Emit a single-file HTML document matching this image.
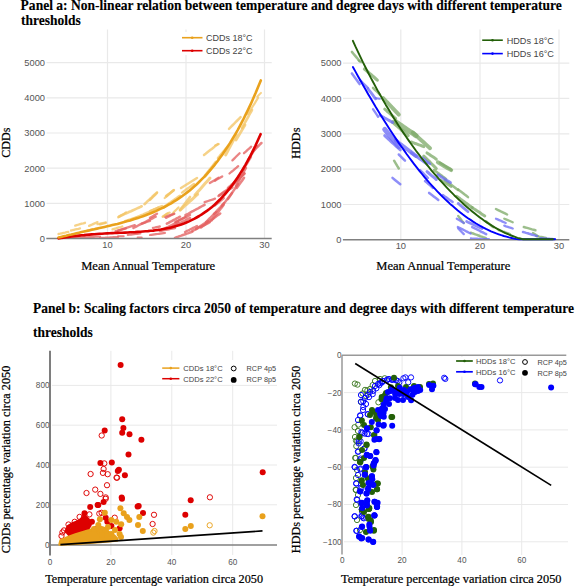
<!DOCTYPE html>
<html><head><meta charset="utf-8"><title>Figure</title>
<style>html,body{margin:0;padding:0;background:#fff;width:575px;height:586px;overflow:hidden}svg{display:block}</style>
</head><body>
<svg width="575" height="586" viewBox="0 0 575 586">
<rect width="575" height="586" fill="#fff"/>
<text transform="translate(20.6,9.6) scale(1,1.12)" font-family='"Liberation Serif", serif' font-size="13.56" fill="#000" font-weight="bold" stroke="#000" stroke-width="0.12" >Panel a: Non-linear relation between temperature and degree days with different temperature</text>
<text transform="translate(21,24.5) scale(1,1.12)" font-family='"Liberation Serif", serif' font-size="13.5" fill="#000" font-weight="bold" stroke="#000" stroke-width="0.12" >thresholds</text>
<line x1="46.5" y1="62.7" x2="271.7" y2="62.7" stroke="#e9e9e9" stroke-width="1.2" />
<line x1="46.5" y1="97.9" x2="271.7" y2="97.9" stroke="#e9e9e9" stroke-width="1.2" />
<line x1="46.5" y1="133" x2="271.7" y2="133" stroke="#e9e9e9" stroke-width="1.2" />
<line x1="46.5" y1="168.2" x2="271.7" y2="168.2" stroke="#e9e9e9" stroke-width="1.2" />
<line x1="46.5" y1="203.4" x2="271.7" y2="203.4" stroke="#e9e9e9" stroke-width="1.2" />
<line x1="107.5" y1="29.5" x2="107.5" y2="238.6" stroke="#e9e9e9" stroke-width="1.2" />
<line x1="186" y1="29.5" x2="186" y2="238.6" stroke="#e9e9e9" stroke-width="1.2" />
<line x1="264.5" y1="29.5" x2="264.5" y2="238.6" stroke="#e9e9e9" stroke-width="1.2" />
<text x="45" y="66" font-family='"Liberation Sans", sans-serif' font-size="9.3" fill="#555" text-anchor="end" font-weight="normal" >5000</text>
<text x="45" y="101.2" font-family='"Liberation Sans", sans-serif' font-size="9.3" fill="#555" text-anchor="end" font-weight="normal" >4000</text>
<text x="45" y="136.3" font-family='"Liberation Sans", sans-serif' font-size="9.3" fill="#555" text-anchor="end" font-weight="normal" >3000</text>
<text x="45" y="171.5" font-family='"Liberation Sans", sans-serif' font-size="9.3" fill="#555" text-anchor="end" font-weight="normal" >2000</text>
<text x="45" y="206.7" font-family='"Liberation Sans", sans-serif' font-size="9.3" fill="#555" text-anchor="end" font-weight="normal" >1000</text>
<text x="45" y="241.9" font-family='"Liberation Sans", sans-serif' font-size="9.3" fill="#555" text-anchor="end" font-weight="normal" >0</text>
<text x="107.5" y="247.7" font-family='"Liberation Sans", sans-serif' font-size="9.3" fill="#555" text-anchor="middle" font-weight="normal" >10</text>
<text x="186" y="247.7" font-family='"Liberation Sans", sans-serif' font-size="9.3" fill="#555" text-anchor="middle" font-weight="normal" >20</text>
<text x="264.5" y="247.7" font-family='"Liberation Sans", sans-serif' font-size="9.3" fill="#555" text-anchor="middle" font-weight="normal" >30</text>
<text transform="translate(81.2,269.6) scale(1,1.07)" font-family='"Liberation Serif", serif' font-size="12.55" fill="#000" font-weight="normal" stroke="#000" stroke-width="0.22" >Mean Annual Temperature</text>
<text transform="translate(9.8,142.7) rotate(-90) scale(1,1.05)" font-family='"Liberation Serif", serif' font-size="12" fill="#000" stroke="#000" stroke-width="0.22" text-anchor="middle">CDDs</text>
<line x1="343" y1="63.1" x2="569.3" y2="63.1" stroke="#e9e9e9" stroke-width="1.2" />
<line x1="343" y1="98.4" x2="569.3" y2="98.4" stroke="#e9e9e9" stroke-width="1.2" />
<line x1="343" y1="133.8" x2="569.3" y2="133.8" stroke="#e9e9e9" stroke-width="1.2" />
<line x1="343" y1="169.1" x2="569.3" y2="169.1" stroke="#e9e9e9" stroke-width="1.2" />
<line x1="343" y1="204.5" x2="569.3" y2="204.5" stroke="#e9e9e9" stroke-width="1.2" />
<line x1="400.8" y1="29.5" x2="400.8" y2="239.8" stroke="#e9e9e9" stroke-width="1.2" />
<line x1="480" y1="29.5" x2="480" y2="239.8" stroke="#e9e9e9" stroke-width="1.2" />
<line x1="559" y1="29.5" x2="559" y2="239.8" stroke="#e9e9e9" stroke-width="1.2" />
<text x="341.5" y="66.4" font-family='"Liberation Sans", sans-serif' font-size="9.3" fill="#555" text-anchor="end" font-weight="normal" >5000</text>
<text x="341.5" y="101.7" font-family='"Liberation Sans", sans-serif' font-size="9.3" fill="#555" text-anchor="end" font-weight="normal" >4000</text>
<text x="341.5" y="137.1" font-family='"Liberation Sans", sans-serif' font-size="9.3" fill="#555" text-anchor="end" font-weight="normal" >3000</text>
<text x="341.5" y="172.4" font-family='"Liberation Sans", sans-serif' font-size="9.3" fill="#555" text-anchor="end" font-weight="normal" >2000</text>
<text x="341.5" y="207.8" font-family='"Liberation Sans", sans-serif' font-size="9.3" fill="#555" text-anchor="end" font-weight="normal" >1000</text>
<text x="341.5" y="243.1" font-family='"Liberation Sans", sans-serif' font-size="9.3" fill="#555" text-anchor="end" font-weight="normal" >0</text>
<text x="400.8" y="249" font-family='"Liberation Sans", sans-serif' font-size="9.3" fill="#555" text-anchor="middle" font-weight="normal" >10</text>
<text x="480" y="249" font-family='"Liberation Sans", sans-serif' font-size="9.3" fill="#555" text-anchor="middle" font-weight="normal" >20</text>
<text x="559" y="249" font-family='"Liberation Sans", sans-serif' font-size="9.3" fill="#555" text-anchor="middle" font-weight="normal" >30</text>
<text transform="translate(376.3,269.6) scale(1,1.07)" font-family='"Liberation Serif", serif' font-size="12.55" fill="#000" font-weight="normal" stroke="#000" stroke-width="0.22" >Mean Annual Temperature</text>
<text transform="translate(300,143.2) rotate(-90) scale(1,1.05)" font-family='"Liberation Serif", serif' font-size="12.2" fill="#000" stroke="#000" stroke-width="0.22" text-anchor="middle">HDDs</text>
<text transform="translate(33,313.4) scale(1,1.12)" font-family='"Liberation Serif", serif' font-size="13.5" fill="#000" font-weight="bold" stroke="#000" stroke-width="0.12" >Panel b: Scaling factors circa 2050 of temperature and degree days with different temperature</text>
<text transform="translate(33,337.4) scale(1,1.12)" font-family='"Liberation Serif", serif' font-size="13.5" fill="#000" font-weight="bold" stroke="#000" stroke-width="0.12" >thresholds</text>
<line x1="52" y1="504.8" x2="277" y2="504.8" stroke="#e9e9e9" stroke-width="1" />
<line x1="52" y1="465" x2="277" y2="465" stroke="#e9e9e9" stroke-width="1" />
<line x1="52" y1="425.2" x2="277" y2="425.2" stroke="#e9e9e9" stroke-width="1" />
<line x1="52" y1="385.4" x2="277" y2="385.4" stroke="#e9e9e9" stroke-width="1" />
<line x1="110.9" y1="350.8" x2="110.9" y2="555" stroke="#e9e9e9" stroke-width="1" />
<line x1="171.8" y1="350.8" x2="171.8" y2="555" stroke="#e9e9e9" stroke-width="1" />
<line x1="232.7" y1="350.8" x2="232.7" y2="555" stroke="#e9e9e9" stroke-width="1" />
<text x="49.5" y="547.5" font-family='"Liberation Sans", sans-serif' font-size="8.2" fill="#555" text-anchor="end" font-weight="normal" >0</text>
<text x="49.5" y="507.7" font-family='"Liberation Sans", sans-serif' font-size="8.2" fill="#555" text-anchor="end" font-weight="normal" >200</text>
<text x="49.5" y="467.9" font-family='"Liberation Sans", sans-serif' font-size="8.2" fill="#555" text-anchor="end" font-weight="normal" >400</text>
<text x="49.5" y="428.1" font-family='"Liberation Sans", sans-serif' font-size="8.2" fill="#555" text-anchor="end" font-weight="normal" >600</text>
<text x="49.5" y="388.3" font-family='"Liberation Sans", sans-serif' font-size="8.2" fill="#555" text-anchor="end" font-weight="normal" >800</text>
<text x="50" y="564.9" font-family='"Liberation Sans", sans-serif' font-size="8.2" fill="#555" text-anchor="middle" font-weight="normal" >0</text>
<text x="110.9" y="564.9" font-family='"Liberation Sans", sans-serif' font-size="8.2" fill="#555" text-anchor="middle" font-weight="normal" >20</text>
<text x="171.8" y="564.9" font-family='"Liberation Sans", sans-serif' font-size="8.2" fill="#555" text-anchor="middle" font-weight="normal" >40</text>
<text x="232.7" y="564.9" font-family='"Liberation Sans", sans-serif' font-size="8.2" fill="#555" text-anchor="middle" font-weight="normal" >60</text>
<text transform="translate(45.2,582.9) scale(1,1.07)" font-family='"Liberation Serif", serif' font-size="12.2" fill="#000" font-weight="normal" stroke="#000" stroke-width="0.22" >Temperature percentage variation circa 2050</text>
<text transform="translate(10,459.5) rotate(-90) scale(1,1.05)" font-family='"Liberation Serif", serif' font-size="12.25" fill="#000" stroke="#000" stroke-width="0.22" text-anchor="middle">CDDs percentage variation circa 2050</text>
<line x1="344" y1="392.6" x2="568" y2="392.6" stroke="#e9e9e9" stroke-width="1" />
<line x1="344" y1="429.9" x2="568" y2="429.9" stroke="#e9e9e9" stroke-width="1" />
<line x1="344" y1="467.2" x2="568" y2="467.2" stroke="#e9e9e9" stroke-width="1" />
<line x1="344" y1="504.5" x2="568" y2="504.5" stroke="#e9e9e9" stroke-width="1" />
<line x1="344" y1="541.8" x2="568" y2="541.8" stroke="#e9e9e9" stroke-width="1" />
<line x1="402.1" y1="355" x2="402.1" y2="555" stroke="#e9e9e9" stroke-width="1" />
<line x1="461.9" y1="355" x2="461.9" y2="555" stroke="#e9e9e9" stroke-width="1" />
<line x1="521.7" y1="355" x2="521.7" y2="555" stroke="#e9e9e9" stroke-width="1" />
<text x="341.5" y="358.2" font-family='"Liberation Sans", sans-serif' font-size="8.2" fill="#555" text-anchor="end" font-weight="normal" >0</text>
<text x="341.5" y="395.5" font-family='"Liberation Sans", sans-serif' font-size="8.2" fill="#555" text-anchor="end" font-weight="normal" >−20</text>
<text x="341.5" y="432.8" font-family='"Liberation Sans", sans-serif' font-size="8.2" fill="#555" text-anchor="end" font-weight="normal" >−40</text>
<text x="341.5" y="470.1" font-family='"Liberation Sans", sans-serif' font-size="8.2" fill="#555" text-anchor="end" font-weight="normal" >−60</text>
<text x="341.5" y="507.4" font-family='"Liberation Sans", sans-serif' font-size="8.2" fill="#555" text-anchor="end" font-weight="normal" >−80</text>
<text x="341.5" y="544.7" font-family='"Liberation Sans", sans-serif' font-size="8.2" fill="#555" text-anchor="end" font-weight="normal" >−100</text>
<text x="342.3" y="563" font-family='"Liberation Sans", sans-serif' font-size="8.2" fill="#555" text-anchor="middle" font-weight="normal" >0</text>
<text x="402.1" y="563" font-family='"Liberation Sans", sans-serif' font-size="8.2" fill="#555" text-anchor="middle" font-weight="normal" >20</text>
<text x="461.9" y="563" font-family='"Liberation Sans", sans-serif' font-size="8.2" fill="#555" text-anchor="middle" font-weight="normal" >40</text>
<text x="521.7" y="563" font-family='"Liberation Sans", sans-serif' font-size="8.2" fill="#555" text-anchor="middle" font-weight="normal" >60</text>
<text transform="translate(341,582.9) scale(1,1.07)" font-family='"Liberation Serif", serif' font-size="12.36" fill="#000" font-weight="normal" stroke="#000" stroke-width="0.22" >Temperature percentage variation circa 2050</text>
<text transform="translate(300,459.4) rotate(-90) scale(1,1.05)" font-family='"Liberation Serif", serif' font-size="12.2" fill="#000" stroke="#000" stroke-width="0.22" text-anchor="middle">HDDs percentage variation circa 2050</text>
<g stroke-linecap="round" fill="none">
<polyline points="58.5,234 60.1,233.7 61.8,233.3 63.4,232.9 65,232.6 66.7,232.2 68.3,231.9" fill="none" stroke="#F3C566" stroke-width="2.3" stroke-linejoin="round" stroke-linecap="round" stroke-opacity="0.78"/>
<polyline points="71,230.5 72.5,230.2 74,229.8 75.5,229.4 77,229.1 78.5,228.8 80,228.4" fill="none" stroke="#F3C566" stroke-width="2.3" stroke-linejoin="round" stroke-linecap="round" stroke-opacity="0.78"/>
<polyline points="75.2,225.6 76.8,225.1 78.5,224.7 80.1,224.2 81.7,223.7 83.4,223.3 85,222.8" fill="none" stroke="#F3C566" stroke-width="2.3" stroke-linejoin="round" stroke-linecap="round" stroke-opacity="0.78"/>
<polyline points="89.1,225.9 90.8,225.1 92.5,224.4 94.1,223.6 95.8,222.9 97.5,222.1" fill="none" stroke="#F3C566" stroke-width="2.3" stroke-linejoin="round" stroke-linecap="round" stroke-opacity="0.78"/>
<polyline points="97.5,224.2 99.2,223.9 100.8,223.5 102.5,223.2 104.1,222.8 105.8,222.5" fill="none" stroke="#F3C566" stroke-width="2.3" stroke-linejoin="round" stroke-linecap="round" stroke-opacity="0.78"/>
<polyline points="118.3,217.3 119.8,216.3 121.4,215.3 122.9,214.4 124.5,213.4 126,212.4" fill="none" stroke="#F3C566" stroke-width="2.3" stroke-linejoin="round" stroke-linecap="round" stroke-opacity="0.78"/>
<polyline points="144.5,204.2 146.1,202.7 147.6,201.2 149.2,199.8 150.8,198.3 152.3,196.8 153.9,195.3 155.4,193.9 157,192.4" fill="none" stroke="#F3C566" stroke-width="2.6" stroke-linejoin="round" stroke-linecap="round" stroke-opacity="0.78"/>
<polyline points="118.8,216.7 120.3,216 121.9,215.3 123.4,214.6 124.9,213.9 126.4,213.2 128,212.5 129.5,211.8 131,211.2 132.5,210.5 134.1,209.8 135.6,209.1 137.1,208.4 138.6,207.7 140.2,207 141.7,206.3" fill="none" stroke="#F3C566" stroke-width="2.6" stroke-linejoin="round" stroke-linecap="round" stroke-opacity="0.78"/>
<polyline points="132,219.5 133.6,218.8 135.1,218.1 136.7,217.4 138.2,216.7 139.8,216 141.3,215.3 142.9,214.6 144.4,213.9 146,213.3 147.5,212.6 149.1,211.9 150.6,211.2 152.2,210.5 153.7,209.8 155.3,209.1 156.8,208.4 158.4,207.7" fill="none" stroke="#F3C566" stroke-width="2.6" stroke-linejoin="round" stroke-linecap="round" stroke-opacity="0.78"/>
<polyline points="164.7,198 166.2,196.7 167.7,195.4 169.2,194.2 170.7,192.9 172.2,191.6 173.7,190.3" fill="none" stroke="#F3C566" stroke-width="2.3" stroke-linejoin="round" stroke-linecap="round" stroke-opacity="0.78"/>
<polyline points="164,207 165.6,205.9 167.2,204.8 168.8,203.7 170.4,202.6 172,201.4 173.6,200.3 175.2,199.2 176.8,198.1 178.4,197 180,195.9" fill="none" stroke="#F3C566" stroke-width="2.8" stroke-linejoin="round" stroke-linecap="round" stroke-opacity="0.78"/>
<polyline points="162.6,216.7 164.3,215.7 166.1,214.6 167.8,213.6 169.6,212.6" fill="none" stroke="#F3C566" stroke-width="2.3" stroke-linejoin="round" stroke-linecap="round" stroke-opacity="0.78"/>
<polyline points="100,224.4 101.9,223.9 103.7,223.5 105.6,223" fill="none" stroke="#F3C566" stroke-width="2.3" stroke-linejoin="round" stroke-linecap="round" stroke-opacity="0.78"/>
<polyline points="112.5,229.3 114.1,228.8 115.8,228.4 117.4,227.9 119,227.4 120.7,227 122.3,226.5" fill="none" stroke="#F3C566" stroke-width="2.3" stroke-linejoin="round" stroke-linecap="round" stroke-opacity="0.78"/>
<polyline points="204,155 205.6,153.8 207.1,152.6 208.7,151.3 210.2,150.1 211.8,148.9 213.3,147.7 214.9,146.4 216.4,145.2 218,144" fill="none" stroke="#F3C566" stroke-width="2.5" stroke-linejoin="round" stroke-linecap="round" stroke-opacity="0.78"/>
<polyline points="166.5,196.3 168.1,194.9 169.8,193.4 171.4,192 173,190.6" fill="none" stroke="#F3C566" stroke-width="2.3" stroke-linejoin="round" stroke-linecap="round" stroke-opacity="0.78"/>
<polyline points="181,188 182.6,187 184.2,186 185.8,185 187.4,184 189,183 190.6,182 192.2,181 193.8,180 195.4,179 197,178" fill="none" stroke="#F3C566" stroke-width="2.5" stroke-linejoin="round" stroke-linecap="round" stroke-opacity="0.78"/>
<polyline points="180.2,210 181.8,208.6 183.4,207.1 184.9,205.7 186.5,204.3 188.1,202.9 189.7,201.4 191.3,200 192.9,198.6 194.4,197.2 196,195.7 197.6,194.3" fill="none" stroke="#F3C566" stroke-width="3" stroke-linejoin="round" stroke-linecap="round" stroke-opacity="0.78"/>
<polyline points="182,192.6 183.5,191.5 185,190.4 186.5,189.3 188,188.2 189.5,187.2 191,186.1 192.5,185 194,183.9" fill="none" stroke="#F3C566" stroke-width="2.3" stroke-linejoin="round" stroke-linecap="round" stroke-opacity="0.78"/>
<polyline points="195,195 196.5,193.3 198,191.6 199.5,189.9 201,188.2 202.5,186.5 204,184.8 205.5,183.1 207,181.4 208.5,179.7 210,178" fill="none" stroke="#F3C566" stroke-width="3" stroke-linejoin="round" stroke-linecap="round" stroke-opacity="0.78"/>
<polyline points="225.7,154.9 227.2,152 228.7,149.1 230.2,146.2 231.8,143.3 233.3,140.4 234.8,137.5 236.3,134.6" fill="none" stroke="#F3C566" stroke-width="3" stroke-linejoin="round" stroke-linecap="round" stroke-opacity="0.78"/>
<polyline points="229,128.8 230.7,127.1 232.3,125.5 234,123.8 235.6,122.2 237.3,120.5 238.9,118.9 240.6,117.2" fill="none" stroke="#F3C566" stroke-width="2.5" stroke-linejoin="round" stroke-linecap="round" stroke-opacity="0.78"/>
<polyline points="257.2,96.8 259.1,94.8 261,92.9" fill="none" stroke="#F3C566" stroke-width="2" stroke-linejoin="round" stroke-linecap="round" stroke-opacity="0.78"/>
<polyline points="215,145.4 216.9,144.8 218.8,144.1" fill="none" stroke="#F3C566" stroke-width="2" stroke-linejoin="round" stroke-linecap="round" stroke-opacity="0.78"/>
<polyline points="236,140 237.5,137.5 239,135 240.5,132.5 242,130 243.5,127.5 245,125" fill="none" stroke="#F3C566" stroke-width="2.8" stroke-linejoin="round" stroke-linecap="round" stroke-opacity="0.78"/>
<polyline points="242,128 243.7,125 245.3,122 247,119 248.7,116 250.3,113 252,110" fill="none" stroke="#F3C566" stroke-width="2.6" stroke-linejoin="round" stroke-linecap="round" stroke-opacity="0.78"/>
<polyline points="205,176 206.6,174 208.1,172 209.7,170 211.3,168 212.9,166 214.4,164 216,162" fill="none" stroke="#F3C566" stroke-width="3" stroke-linejoin="round" stroke-linecap="round" stroke-opacity="0.78"/>
<polyline points="60,237.5 61.5,237.2 63,237 64.5,236.8 66,236.5 67.5,236.2 69,236 70.5,235.8 72,235.5 73.5,235.2 75,235" fill="none" stroke="#F3C566" stroke-width="2.3" stroke-linejoin="round" stroke-linecap="round" stroke-opacity="0.78"/>
<polyline points="85,231 86.6,230.6 88.2,230.2 89.9,229.9 91.5,229.5 93.1,229.1 94.8,228.8 96.4,228.4 98,228" fill="none" stroke="#F3C566" stroke-width="2.3" stroke-linejoin="round" stroke-linecap="round" stroke-opacity="0.78"/>
<polyline points="248,114 249.7,111.3 251.3,108.7 253,106 254.7,103.3 256.3,100.7 258,98" fill="none" stroke="#F3C566" stroke-width="2.2" stroke-linejoin="round" stroke-linecap="round" stroke-opacity="0.78"/>
<polyline points="218,158 219.7,156 221.3,154 223,152 224.7,150 226.3,148 228,146" fill="none" stroke="#F3C566" stroke-width="2.6" stroke-linejoin="round" stroke-linecap="round" stroke-opacity="0.78"/>
<polyline points="150,211 151.5,210.4 153,209.8 154.5,209.1 156,208.5 157.5,207.9 159,207.2 160.5,206.6 162,206" fill="none" stroke="#F3C566" stroke-width="2.3" stroke-linejoin="round" stroke-linecap="round" stroke-opacity="0.78"/>
<polyline points="125,221 126.5,220.5 128,220 129.5,219.5 131,219 132.5,218.5 134,218 135.5,217.5 137,217" fill="none" stroke="#F3C566" stroke-width="2.3" stroke-linejoin="round" stroke-linecap="round" stroke-opacity="0.78"/>
<polyline points="62,237.6 63.5,237.6 65,237.5 66.6,237.5 68.1,237.4 69.6,237.4 71.1,237.4 72.6,237.3 74.2,237.3 75.7,237.2 77.2,237.2 78.7,237.2 80.2,237.1 81.8,237.1 83.3,237 84.8,237 86.3,237 87.8,236.9 89.4,236.9 90.9,236.8 92.4,236.8 93.9,236.8 95.4,236.7 97,236.7 98.5,236.6 100,236.6" fill="none" stroke="#E46262" stroke-width="2.3" stroke-linejoin="round" stroke-linecap="round" stroke-opacity="0.78"/>
<polyline points="115.5,231.2 117,230.8 118.5,230.4 120,230 121.5,229.6 123,229.2 124.5,228.8 126,228.4" fill="none" stroke="#E46262" stroke-width="2.3" stroke-linejoin="round" stroke-linecap="round" stroke-opacity="0.78"/>
<polyline points="118,230.7 119.5,230.2 121.1,229.7 122.6,229.2 124.1,228.7 125.6,228.2 127.2,227.6 128.7,227.1 130.2,226.6 131.7,226.1 133.3,225.6 134.8,225.1" fill="none" stroke="#E46262" stroke-width="2.3" stroke-linejoin="round" stroke-linecap="round" stroke-opacity="0.78"/>
<polyline points="133.4,227.9 135,227.1 136.6,226.3 138.2,225.5 139.8,224.7 141.4,223.9 143,223.1 144.6,222.3 146.1,221.5 147.7,220.7 149.3,219.9 150.9,219.1 152.5,218.3 154.1,217.5 155.7,216.7" fill="none" stroke="#E46262" stroke-width="2.5" stroke-linejoin="round" stroke-linecap="round" stroke-opacity="0.78"/>
<polyline points="141.7,223.7 143.4,223.1 145,222.6 146.7,222 148.3,221.5 150,220.9" fill="none" stroke="#E46262" stroke-width="2.3" stroke-linejoin="round" stroke-linecap="round" stroke-opacity="0.78"/>
<polyline points="164.7,216.7 166.2,216.2 167.7,215.8 169.2,215.3 170.7,214.9 172.2,214.4 173.7,214" fill="none" stroke="#E46262" stroke-width="2.3" stroke-linejoin="round" stroke-linecap="round" stroke-opacity="0.78"/>
<polyline points="166.8,223.7 168.5,222.8 170.1,221.9 171.8,221.1 173.4,220.2 175.1,219.3 176.7,218.4 178.3,217.6 180,216.7" fill="none" stroke="#E46262" stroke-width="2.5" stroke-linejoin="round" stroke-linecap="round" stroke-opacity="0.78"/>
<polyline points="127.8,234.8 129.4,234.6 130.9,234.5 132.5,234.3 134.1,234.1 135.6,233.9 137.2,233.8 138.7,233.6 140.3,233.4" fill="none" stroke="#E46262" stroke-width="2.3" stroke-linejoin="round" stroke-linecap="round" stroke-opacity="0.78"/>
<polyline points="152.9,227.9 154.6,227.6 156.4,227.2 158.1,226.8 159.8,226.5" fill="none" stroke="#E46262" stroke-width="2.3" stroke-linejoin="round" stroke-linecap="round" stroke-opacity="0.78"/>
<polyline points="118,236.2 119.9,236.2 121.8,236.2 123.7,236.2" fill="none" stroke="#E46262" stroke-width="2" stroke-linejoin="round" stroke-linecap="round" stroke-opacity="0.78"/>
<polyline points="137.6,237.6 139.6,237.6 141.7,237.6" fill="none" stroke="#E46262" stroke-width="2" stroke-linejoin="round" stroke-linecap="round" stroke-opacity="0.78"/>
<polyline points="209.8,183 211.5,182 213.3,180.9 215,179.9 216.8,178.8 218.5,177.8" fill="none" stroke="#E46262" stroke-width="2.3" stroke-linejoin="round" stroke-linecap="round" stroke-opacity="0.78"/>
<polyline points="218.5,196 220,195 221.6,194.1 223.1,193.1 224.7,192.2 226.2,191.2 227.8,190.3 229.3,189.3 230.9,188.4 232.4,187.4" fill="none" stroke="#E46262" stroke-width="2.5" stroke-linejoin="round" stroke-linecap="round" stroke-opacity="0.78"/>
<polyline points="204.6,202.2 206.3,201.6 208.1,201 209.8,200.4 211.5,199.9 213.3,199.3 215,198.7" fill="none" stroke="#E46262" stroke-width="2.3" stroke-linejoin="round" stroke-linecap="round" stroke-opacity="0.78"/>
<polyline points="185.4,215.2 187,214.3 188.6,213.5 190.2,212.6 191.8,211.7 193.4,210.9 195,210 196.6,209.1 198.2,208.3 199.8,207.4 201.4,206.5 203,205.7 204.6,204.8" fill="none" stroke="#E46262" stroke-width="2.5" stroke-linejoin="round" stroke-linecap="round" stroke-opacity="0.78"/>
<polyline points="175,222.2 176.7,221.3 178.5,220.5 180.2,219.6 181.9,218.7 183.7,217.9 185.4,217" fill="none" stroke="#E46262" stroke-width="2.3" stroke-linejoin="round" stroke-linecap="round" stroke-opacity="0.78"/>
<polyline points="201,227.4 202.6,226.2 204.2,225.1 205.8,223.9 207.4,222.8 209,221.6 210.6,220.4 212.2,219.3 213.8,218.1 215.4,217 217,215.8 218.6,214.7 220.2,213.5" fill="none" stroke="#E46262" stroke-width="2.6" stroke-linejoin="round" stroke-linecap="round" stroke-opacity="0.78"/>
<polyline points="211.5,220.4 213,218.5 214.6,216.5 216.1,214.6 217.6,212.6 219.1,210.7 220.6,208.7 222.2,206.8 223.7,204.8" fill="none" stroke="#E46262" stroke-width="2.6" stroke-linejoin="round" stroke-linecap="round" stroke-opacity="0.78"/>
<polyline points="192.4,230.9 194,230.1 195.6,229.3 197.1,228.5 198.7,227.7 200.3,226.9 201.9,226.2 203.5,225.4 205.1,224.6 206.6,223.8 208.2,223 209.8,222.2" fill="none" stroke="#E46262" stroke-width="2.6" stroke-linejoin="round" stroke-linecap="round" stroke-opacity="0.78"/>
<polyline points="175,237.8 176.6,237.2 178.2,236.7 179.7,236.1 181.3,235.6 182.9,235 184.5,234.5 186.1,233.9 187.7,233.4 189.2,232.8 190.8,232.3 192.4,231.7" fill="none" stroke="#E46262" stroke-width="2.5" stroke-linejoin="round" stroke-linecap="round" stroke-opacity="0.78"/>
<polyline points="228.9,189.1 230.5,187.5 232,186 233.6,184.4 235.2,182.9 236.8,181.3 238.3,179.7 239.9,178.2 241.5,176.6 243,175.1 244.6,173.5" fill="none" stroke="#E46262" stroke-width="2.6" stroke-linejoin="round" stroke-linecap="round" stroke-opacity="0.78"/>
<polyline points="244,153.2 245.8,151.6 247.6,149.9 249.4,148.3 251.2,146.7" fill="none" stroke="#E46262" stroke-width="2.3" stroke-linejoin="round" stroke-linecap="round" stroke-opacity="0.78"/>
<polyline points="232.4,160.4 234.2,158.6 236,156.8 237.8,155 239.6,153.2" fill="none" stroke="#E46262" stroke-width="2.3" stroke-linejoin="round" stroke-linecap="round" stroke-opacity="0.78"/>
<polyline points="229.5,173.5 231.2,172 233,170.6 234.7,169.1 236.5,167.7 238.2,166.2" fill="none" stroke="#E46262" stroke-width="2.3" stroke-linejoin="round" stroke-linecap="round" stroke-opacity="0.78"/>
<polyline points="228,188 229.6,186.6 231.2,185.1 232.8,183.7 234.4,182.2 236,180.8 237.6,179.3 239.2,177.8 240.8,176.4 242.4,174.9 244,173.5" fill="none" stroke="#E46262" stroke-width="2.6" stroke-linejoin="round" stroke-linecap="round" stroke-opacity="0.78"/>
<polyline points="215,180.7 216.8,179.6 218.6,178.6 220.4,177.5 222.2,176.4" fill="none" stroke="#E46262" stroke-width="2.3" stroke-linejoin="round" stroke-linecap="round" stroke-opacity="0.78"/>
<polyline points="252.7,151.7 254.4,150 256.2,148.2 257.9,146.5 259.7,144.7 261.4,143" fill="none" stroke="#E46262" stroke-width="2.5" stroke-linejoin="round" stroke-linecap="round" stroke-opacity="0.78"/>
<polyline points="236.7,188 238.5,185.4 240.3,182.9 242.2,180.4 244,177.8" fill="none" stroke="#E46262" stroke-width="2.6" stroke-linejoin="round" stroke-linecap="round" stroke-opacity="0.78"/>
<polyline points="219.3,195.2 221,194 222.7,192.8 224.4,191.6 226.1,190.4 227.8,189.2 229.5,188" fill="none" stroke="#E46262" stroke-width="2.5" stroke-linejoin="round" stroke-linecap="round" stroke-opacity="0.78"/>
<polyline points="215,205.4 216.7,203.9 218.5,202.5 220.2,201 222,199.6 223.7,198.1" fill="none" stroke="#E46262" stroke-width="2.5" stroke-linejoin="round" stroke-linecap="round" stroke-opacity="0.78"/>
<polyline points="185,232 186.5,231.2 188,230.5 189.5,229.8 191,229 192.5,228.2 194,227.5 195.5,226.8 197,226" fill="none" stroke="#E46262" stroke-width="2.4" stroke-linejoin="round" stroke-linecap="round" stroke-opacity="0.78"/>
<polyline points="196,229 197.5,228 199,227 200.5,226 202,225 203.5,224 205,223 206.5,222 208,221" fill="none" stroke="#E46262" stroke-width="2.4" stroke-linejoin="round" stroke-linecap="round" stroke-opacity="0.78"/>
<polyline points="206,222 207.7,220.3 209.3,218.7 211,217 212.7,215.3 214.3,213.7 216,212" fill="none" stroke="#E46262" stroke-width="2.4" stroke-linejoin="round" stroke-linecap="round" stroke-opacity="0.78"/>
<polyline points="214,214 215.7,212.2 217.3,210.3 219,208.5 220.7,206.7 222.3,204.8 224,203" fill="none" stroke="#E46262" stroke-width="2.4" stroke-linejoin="round" stroke-linecap="round" stroke-opacity="0.78"/>
<polyline points="222,206 223.7,203.8 225.3,201.7 227,199.5 228.7,197.3 230.3,195.2 232,193" fill="none" stroke="#E46262" stroke-width="2.4" stroke-linejoin="round" stroke-linecap="round" stroke-opacity="0.78"/>
<polyline points="228,199 229.7,196.5 231.3,194 233,191.5 234.7,189 236.3,186.5 238,184" fill="none" stroke="#E46262" stroke-width="2.4" stroke-linejoin="round" stroke-linecap="round" stroke-opacity="0.78"/>
<polyline points="236,186 237.7,183 239.3,180 241,177 242.7,174 244.3,171 246,168" fill="none" stroke="#E46262" stroke-width="2.4" stroke-linejoin="round" stroke-linecap="round" stroke-opacity="0.78"/>
<polyline points="242,172 243.5,169.5 245,167 246.5,164.5 248,162 249.5,159.5 251,157" fill="none" stroke="#E46262" stroke-width="2.4" stroke-linejoin="round" stroke-linecap="round" stroke-opacity="0.78"/>
<polyline points="248,160 249.5,157.7 251,155.3 252.5,153 254,150.7 255.5,148.3 257,146" fill="none" stroke="#E46262" stroke-width="2.4" stroke-linejoin="round" stroke-linecap="round" stroke-opacity="0.78"/>
<polyline points="100,238 101.5,237.9 103,237.8 104.5,237.8 106,237.7 107.5,237.6 109,237.5 110.5,237.4 112,237.3 113.5,237.2 115,237.2 116.5,237.1 118,237" fill="none" stroke="#E46262" stroke-width="2.2" stroke-linejoin="round" stroke-linecap="round" stroke-opacity="0.78"/>
<polyline points="150,235 151.5,234.8 153,234.6 154.5,234.4 156,234.2 157.5,234 159,233.8 160.5,233.6 162,233.4 163.5,233.2 165,233" fill="none" stroke="#E46262" stroke-width="2.2" stroke-linejoin="round" stroke-linecap="round" stroke-opacity="0.78"/>
<polyline points="160,231 161.5,230.7 163,230.4 164.5,230.1 166,229.8 167.5,229.5 169,229.2 170.5,228.9 172,228.6 173.5,228.3 175,228" fill="none" stroke="#E46262" stroke-width="2.4" stroke-linejoin="round" stroke-linecap="round" stroke-opacity="0.78"/>
<polyline points="351.9,51.9 353.4,53.7 355,55.6 356.5,57.4 358.1,59.3 359.6,61.1" fill="none" stroke="#80AC6C" stroke-width="2.5" stroke-linejoin="round" stroke-linecap="round" stroke-opacity="0.78"/>
<polyline points="358.5,60.5 361.1,62.2" fill="none" stroke="#80AC6C" stroke-width="2" stroke-linejoin="round" stroke-linecap="round" stroke-opacity="0.78"/>
<polyline points="364.5,69 366.1,70.4 367.7,71.8 369.3,73.2 370.9,74.5 372.5,75.9 374.1,77.3 375.7,78.7 377.3,80.1" fill="none" stroke="#80AC6C" stroke-width="3.2" stroke-linejoin="round" stroke-linecap="round" stroke-opacity="0.78"/>
<polyline points="373,87.8 374.7,89.5 376.4,91.2 378.2,92.9 379.9,94.6" fill="none" stroke="#80AC6C" stroke-width="2.5" stroke-linejoin="round" stroke-linecap="round" stroke-opacity="0.78"/>
<polyline points="383.1,98.1 384.7,99.8 386.2,101.4 387.8,103 389.4,104.7 391,106.3 392.5,108 394.1,109.6 395.7,111.3 397.2,112.9 398.8,114.6" fill="none" stroke="#80AC6C" stroke-width="4" stroke-linejoin="round" stroke-linecap="round" stroke-opacity="0.78"/>
<polyline points="384.7,109.1 386.3,110.4 387.8,111.8 389.4,113.1 390.9,114.5 392.5,115.8 394,117.2 395.6,118.5" fill="none" stroke="#80AC6C" stroke-width="3" stroke-linejoin="round" stroke-linecap="round" stroke-opacity="0.78"/>
<polyline points="395.6,121.6 397.2,122.7 398.7,123.8 400.3,124.9 401.9,125.9 403.4,127 405,128.1 406.6,129.2 408.2,130.3 409.7,131.4 411.3,132.4 412.9,133.5 414.4,134.6 416,135.7" fill="none" stroke="#80AC6C" stroke-width="5" stroke-linejoin="round" stroke-linecap="round" stroke-opacity="0.78"/>
<polyline points="412.9,132.6 414.5,134 416,135.4 417.6,136.9 419.1,138.3 420.7,139.7 422.2,141.1 423.8,142.5 425.3,143.9 426.9,145.4 428.4,146.8 430,148.2" fill="none" stroke="#80AC6C" stroke-width="4" stroke-linejoin="round" stroke-linecap="round" stroke-opacity="0.78"/>
<polyline points="411.3,142 412.9,142.6 414.4,143.2 416,143.7 417.6,144.3 419.1,144.9 420.7,145.4 422.2,146 423.8,146.6" fill="none" stroke="#80AC6C" stroke-width="3" stroke-linejoin="round" stroke-linecap="round" stroke-opacity="0.78"/>
<polyline points="427,152.9 428.6,153.9 430.1,155 431.6,156.1 433.2,157.1 434.8,158.1 436.3,159.2" fill="none" stroke="#80AC6C" stroke-width="3" stroke-linejoin="round" stroke-linecap="round" stroke-opacity="0.78"/>
<polyline points="437.9,162.3 439.6,163.3 441.2,164.2 442.9,165.2 444.5,166.2 446.2,167.2 447.9,168.2 449.5,169.1 451.2,170.1" fill="none" stroke="#80AC6C" stroke-width="4" stroke-linejoin="round" stroke-linecap="round" stroke-opacity="0.78"/>
<polyline points="423.8,156 425.4,157.6 426.9,159.1 428.5,160.7 430.1,162.2 431.6,163.8 433.2,165.4 434.7,166.9 436.3,168.5" fill="none" stroke="#80AC6C" stroke-width="3" stroke-linejoin="round" stroke-linecap="round" stroke-opacity="0.78"/>
<polyline points="394.1,160.7 395.7,163.3 397.2,165.9 398.8,168.5" fill="none" stroke="#80AC6C" stroke-width="2.5" stroke-linejoin="round" stroke-linecap="round" stroke-opacity="0.78"/>
<polyline points="392.6,121.9 394.1,123.3 395.7,124.6 397.2,126 398.8,127.3 400.3,128.7 401.8,130.1 403.4,131.4 404.9,132.8 406.5,134.1 408,135.5" fill="none" stroke="#80AC6C" stroke-width="3.5" stroke-linejoin="round" stroke-linecap="round" stroke-opacity="0.78"/>
<polyline points="440,162.8 441.6,163.8 443.2,164.8 444.8,165.8 446.4,166.8 448,167.8 449.6,168.8 451.2,169.8" fill="none" stroke="#80AC6C" stroke-width="2.5" stroke-linejoin="round" stroke-linecap="round" stroke-opacity="0.78"/>
<polyline points="458.2,189.4 459.8,190.7 461.5,192 463.1,193.2 464.7,194.5 466.4,195.8 468,197.1" fill="none" stroke="#80AC6C" stroke-width="2.5" stroke-linejoin="round" stroke-linecap="round" stroke-opacity="0.78"/>
<polyline points="456.8,196.4 458.3,197.5 459.9,198.6 461.4,199.8 463,200.9 464.5,202 466,203.1 467.6,204.2 469.1,205.4 470.7,206.5 472.2,207.6" fill="none" stroke="#80AC6C" stroke-width="3" stroke-linejoin="round" stroke-linecap="round" stroke-opacity="0.78"/>
<polyline points="472.2,207.6 473.8,208.7 475.4,209.7 476.9,210.8 478.5,211.8 480.1,212.8 481.6,213.9 483.2,214.9 484.8,216" fill="none" stroke="#80AC6C" stroke-width="3" stroke-linejoin="round" stroke-linecap="round" stroke-opacity="0.78"/>
<polyline points="496,209 497.6,209.8 499.2,210.6 500.8,211.4 502.3,212.1 503.9,212.9 505.5,213.7 507.1,214.5" fill="none" stroke="#80AC6C" stroke-width="2.5" stroke-linejoin="round" stroke-linecap="round" stroke-opacity="0.78"/>
<polyline points="504.3,218.7 506,219.4 507.7,220.1 509.3,220.8 511,221.5 512.7,222.2" fill="none" stroke="#80AC6C" stroke-width="2.3" stroke-linejoin="round" stroke-linecap="round" stroke-opacity="0.78"/>
<polyline points="486.2,221.5 487.9,222.9 489.6,224.3 491.4,225.7 493.1,227.1" fill="none" stroke="#80AC6C" stroke-width="2.5" stroke-linejoin="round" stroke-linecap="round" stroke-opacity="0.78"/>
<polyline points="498.7,230 500.3,230.6 501.9,231.2 503.5,231.8 505.1,232.3 506.7,232.9 508.3,233.5 509.9,234.1" fill="none" stroke="#80AC6C" stroke-width="2.5" stroke-linejoin="round" stroke-linecap="round" stroke-opacity="0.78"/>
<polyline points="458.2,216 460.1,218.3 461.9,220.7 463.8,223" fill="none" stroke="#80AC6C" stroke-width="2.3" stroke-linejoin="round" stroke-linecap="round" stroke-opacity="0.78"/>
<polyline points="470.8,232.7 472.3,233.3 473.9,233.8 475.4,234.4 477,234.9 478.5,235.5 480,236.1 481.6,236.6 483.1,237.2 484.7,237.7 486.2,238.3" fill="none" stroke="#80AC6C" stroke-width="2.5" stroke-linejoin="round" stroke-linecap="round" stroke-opacity="0.78"/>
<polyline points="440,179.6 441.6,180.6 443.2,181.6 444.8,182.6 446.4,183.6 448,184.6 449.6,185.6 451.2,186.6" fill="none" stroke="#80AC6C" stroke-width="2.5" stroke-linejoin="round" stroke-linecap="round" stroke-opacity="0.78"/>
<polyline points="523.8,227 525.5,227.5 527.1,227.9 528.8,228.4 530.4,228.9 532.1,229.4 533.7,229.8 535.4,230.3" fill="none" stroke="#80AC6C" stroke-width="2.5" stroke-linejoin="round" stroke-linecap="round" stroke-opacity="0.78"/>
<polyline points="536.2,236.1 537.9,236.4 539.5,236.7 541.2,236.9 542.8,237.2 544.5,237.5 546.1,237.8" fill="none" stroke="#80AC6C" stroke-width="2.2" stroke-linejoin="round" stroke-linecap="round" stroke-opacity="0.78"/>
<polyline points="532.9,232.8 534.6,233.9 536.2,235 537.9,236.1" fill="none" stroke="#80AC6C" stroke-width="2.2" stroke-linejoin="round" stroke-linecap="round" stroke-opacity="0.78"/>
<polyline points="445,180 446.6,181.2 448.2,182.5 449.9,183.8 451.5,185 453.1,186.2 454.8,187.5 456.4,188.8 458,190" fill="none" stroke="#80AC6C" stroke-width="2.6" stroke-linejoin="round" stroke-linecap="round" stroke-opacity="0.78"/>
<polyline points="434,170 435.5,171.1 437,172.2 438.5,173.4 440,174.5 441.5,175.6 443,176.8 444.5,177.9 446,179" fill="none" stroke="#80AC6C" stroke-width="2.6" stroke-linejoin="round" stroke-linecap="round" stroke-opacity="0.78"/>
<polyline points="351.9,73.4 353.4,75.5 355,77.7 356.5,79.8 358.1,82 359.6,84.1" fill="none" stroke="#6E6EF6" stroke-width="2.5" stroke-linejoin="round" stroke-linecap="round" stroke-opacity="0.78"/>
<polyline points="367.9,88.6 369.4,90.6 371,92.7 372.5,94.7 374.1,96.8 375.6,98.8" fill="none" stroke="#6E6EF6" stroke-width="2.8" stroke-linejoin="round" stroke-linecap="round" stroke-opacity="0.78"/>
<polyline points="375.6,98 377.8,98.4 379.9,98.8" fill="none" stroke="#6E6EF6" stroke-width="2" stroke-linejoin="round" stroke-linecap="round" stroke-opacity="0.78"/>
<polyline points="373,109.1 374.7,111.7 376.4,114.2 378.1,116.8" fill="none" stroke="#6E6EF6" stroke-width="2.3" stroke-linejoin="round" stroke-linecap="round" stroke-opacity="0.78"/>
<polyline points="360,80 361.6,81.6 363.2,83.2 364.8,84.8 366.4,86.4 368,88" fill="none" stroke="#6E6EF6" stroke-width="2.3" stroke-linejoin="round" stroke-linecap="round" stroke-opacity="0.78"/>
<polyline points="380,115.3 381.6,116.2 383.1,117.1 384.7,118 386.2,118.8 387.8,119.7 389.4,120.6 390.9,121.5 392.5,122.4" fill="none" stroke="#6E6EF6" stroke-width="3" stroke-linejoin="round" stroke-linecap="round" stroke-opacity="0.78"/>
<polyline points="384.7,129.4 386.3,131.3 387.8,133.2 389.4,135.1 391,137 392.5,139 394.1,140.9 395.7,142.8 397.2,144.7 398.8,146.6" fill="none" stroke="#6E6EF6" stroke-width="5" stroke-linejoin="round" stroke-linecap="round" stroke-opacity="0.78"/>
<polyline points="384.7,135.7 386.3,137.1 387.8,138.5 389.4,139.9 390.9,141.3 392.5,142.8 394.1,144.2 395.6,145.6 397.2,147 398.7,148.4 400.3,149.8" fill="none" stroke="#6E6EF6" stroke-width="3" stroke-linejoin="round" stroke-linecap="round" stroke-opacity="0.78"/>
<polyline points="395.6,140.4 397.2,141.6 398.7,142.8 400.3,144 401.9,145.2 403.4,146.4 405,147.6 406.6,148.8 408.2,150 409.7,151.2 411.3,152.4 412.9,153.6 414.4,154.8 416,156" fill="none" stroke="#6E6EF6" stroke-width="4" stroke-linejoin="round" stroke-linecap="round" stroke-opacity="0.78"/>
<polyline points="398.8,154.5 400.4,156.1 401.9,157.6 403.4,159.1 405,160.7" fill="none" stroke="#6E6EF6" stroke-width="2.5" stroke-linejoin="round" stroke-linecap="round" stroke-opacity="0.78"/>
<polyline points="411.3,152.9 412.9,154 414.4,155.1 416,156.2 417.6,157.3 419.1,158.4 420.7,159.5 422.3,160.6 423.9,161.7 425.4,162.8 427,163.9" fill="none" stroke="#6E6EF6" stroke-width="3" stroke-linejoin="round" stroke-linecap="round" stroke-opacity="0.78"/>
<polyline points="422.3,157.6 423.8,158.9 425.4,160.1 426.9,161.4 428.5,162.6 430,163.9" fill="none" stroke="#6E6EF6" stroke-width="2.5" stroke-linejoin="round" stroke-linecap="round" stroke-opacity="0.78"/>
<polyline points="392.5,177.9 394.1,179.2 395.6,180.4 397.2,181.7 398.7,182.9 400.3,184.2" fill="none" stroke="#6E6EF6" stroke-width="2.5" stroke-linejoin="round" stroke-linecap="round" stroke-opacity="0.78"/>
<polyline points="427,171.7 428.6,173 430.1,174.3 431.6,175.6 433.2,176.9 434.8,178.2 436.3,179.5" fill="none" stroke="#6E6EF6" stroke-width="3" stroke-linejoin="round" stroke-linecap="round" stroke-opacity="0.78"/>
<polyline points="437.9,174.8 439.5,175.8 441,176.8 442.6,177.7 444.1,178.7 445.7,179.7 447.3,180.7 448.8,181.6 450.4,182.6" fill="none" stroke="#6E6EF6" stroke-width="3" stroke-linejoin="round" stroke-linecap="round" stroke-opacity="0.78"/>
<polyline points="429.1,192.9 430.6,194.1 432.2,195.3 433.7,196.4 435.2,197.6 436.8,198.8 438.3,200" fill="none" stroke="#6E6EF6" stroke-width="2.5" stroke-linejoin="round" stroke-linecap="round" stroke-opacity="0.78"/>
<polyline points="442.8,195 444.4,196.2 446.1,197.3 447.7,198.5 449.3,199.7 451,200.8 452.6,202" fill="none" stroke="#6E6EF6" stroke-width="2.5" stroke-linejoin="round" stroke-linecap="round" stroke-opacity="0.78"/>
<polyline points="458.2,203.4 459.8,204.8 461.5,206.2 463.1,207.6 464.7,208.9 466.4,210.3 468,211.7" fill="none" stroke="#6E6EF6" stroke-width="2.8" stroke-linejoin="round" stroke-linecap="round" stroke-opacity="0.78"/>
<polyline points="456.8,218.7 458.6,219.8 460.3,220.8 462.1,221.9 463.8,223" fill="none" stroke="#6E6EF6" stroke-width="2.3" stroke-linejoin="round" stroke-linecap="round" stroke-opacity="0.78"/>
<polyline points="458.2,228.5 460.1,230.4 461.9,232.2 463.8,234.1" fill="none" stroke="#6E6EF6" stroke-width="2.3" stroke-linejoin="round" stroke-linecap="round" stroke-opacity="0.78"/>
<polyline points="466.6,221.5 468.1,222.2 469.7,222.9 471.2,223.6 472.8,224.3 474.3,225 475.8,225.7 477.4,226.4 478.9,227.1 480.5,227.8 482,228.5" fill="none" stroke="#6E6EF6" stroke-width="2.8" stroke-linejoin="round" stroke-linecap="round" stroke-opacity="0.78"/>
<polyline points="496,218.7 497.6,219.4 499.2,220.1 500.9,220.8 502.5,221.6 504.1,222.3 505.7,223" fill="none" stroke="#6E6EF6" stroke-width="2.3" stroke-linejoin="round" stroke-linecap="round" stroke-opacity="0.78"/>
<polyline points="504.3,225.7 506,226.3 507.7,226.8 509.3,227.4 511,227.9 512.7,228.5" fill="none" stroke="#6E6EF6" stroke-width="2.3" stroke-linejoin="round" stroke-linecap="round" stroke-opacity="0.78"/>
<polyline points="472.2,227.1 473.8,227.9 475.3,228.7 476.9,229.4 478.4,230.2 480,231 481.5,231.8 483.1,232.5 484.6,233.3 486.2,234.1" fill="none" stroke="#6E6EF6" stroke-width="2.5" stroke-linejoin="round" stroke-linecap="round" stroke-opacity="0.78"/>
<polyline points="470.8,238.3 472.3,238.4 473.8,238.5 475.4,238.6 476.9,238.6 478.4,238.7 479.9,238.8 481.4,238.9 482.9,239 484.4,239 486,239 487.5,239 489,239" fill="none" stroke="#6E6EF6" stroke-width="2" stroke-linejoin="round" stroke-linecap="round" stroke-opacity="0.78"/>
<polyline points="523,232 524.6,232.4 526.1,232.9 527.7,233.3 529.2,233.8 530.8,234.2 532.3,234.7 533.9,235.1 535.4,235.6 537,236" fill="none" stroke="#6E6EF6" stroke-width="2.5" stroke-linejoin="round" stroke-linecap="round" stroke-opacity="0.78"/>
<polyline points="540,238 541.5,238.1 543,238.2 544.5,238.3 546,238.4 547.5,238.5 549,238.6 550.5,238.7 552,238.8 553.5,238.9 555,239" fill="none" stroke="#6E6EF6" stroke-width="2" stroke-linejoin="round" stroke-linecap="round" stroke-opacity="0.78"/>
<polyline points="457.8,227 459.4,227.8 461,228.6 462.6,229.4 464.2,230.2 465.8,231.1 467.4,231.9 469,232.7 470.6,233.5" fill="none" stroke="#6E6EF6" stroke-width="2.3" stroke-linejoin="round" stroke-linecap="round" stroke-opacity="0.78"/>
<polyline points="420,170 421.6,171.6 423.2,173.2 424.8,174.8 426.4,176.4 428,178" fill="none" stroke="#6E6EF6" stroke-width="2.4" stroke-linejoin="round" stroke-linecap="round" stroke-opacity="0.78"/>
<polyline points="425,181 426.6,182.4 428.2,183.8 429.8,185.2 431.4,186.6 433,188" fill="none" stroke="#6E6EF6" stroke-width="2.4" stroke-linejoin="round" stroke-linecap="round" stroke-opacity="0.78"/>
<polyline points="150,200 151.8,198.2 153.5,196.5 155.2,194.8 157,193" fill="none" stroke="#F3C566" stroke-width="2.4" stroke-linejoin="round" stroke-linecap="round" stroke-opacity="0.78"/>
<polyline points="166,196 167.6,194.8 169.2,193.6 170.8,192.4 172.4,191.2 174,190" fill="none" stroke="#F3C566" stroke-width="2.4" stroke-linejoin="round" stroke-linecap="round" stroke-opacity="0.78"/>
<polyline points="163.2,216.4 165.3,214.9 167.4,213.3" fill="none" stroke="#F3C566" stroke-width="2.2" stroke-linejoin="round" stroke-linecap="round" stroke-opacity="0.78"/>
<polyline points="173,213 174.8,211.1 176.7,209.3 178.5,207.4" fill="none" stroke="#F3C566" stroke-width="2.2" stroke-linejoin="round" stroke-linecap="round" stroke-opacity="0.78"/>
<polyline points="180,210 181.7,207.8 183.3,205.7 185,203.5 186.7,201.3 188.3,199.2 190,197" fill="none" stroke="#F3C566" stroke-width="2.6" stroke-linejoin="round" stroke-linecap="round" stroke-opacity="0.78"/>
<polyline points="150,217.8 151.8,216.8 153.5,215.8 155.2,214.7 157,213.7" fill="none" stroke="#E46262" stroke-width="2.4" stroke-linejoin="round" stroke-linecap="round" stroke-opacity="0.78"/>
<polyline points="166,217.8 167.7,217 169.3,216.2 171,215.3 172.6,214.5 174.3,213.7" fill="none" stroke="#E46262" stroke-width="2.4" stroke-linejoin="round" stroke-linecap="round" stroke-opacity="0.78"/>
<polyline points="164,229 165.6,228.2 167.1,227.4 168.7,226.7 170.2,225.9 171.8,225.1 173.3,224.3 174.9,223.6 176.4,222.8 178,222" fill="none" stroke="#E46262" stroke-width="2.6" stroke-linejoin="round" stroke-linecap="round" stroke-opacity="0.78"/>
<polyline points="170,228 171.5,227.2 173.1,226.5 174.6,225.7 176.2,224.9 177.7,224.2 179.2,223.4 180.8,222.6 182.3,221.8 183.8,221.1 185.4,220.3 186.9,219.5 188.5,218.8 190,218" fill="none" stroke="#E46262" stroke-width="2.6" stroke-linejoin="round" stroke-linecap="round" stroke-opacity="0.78"/>
<polyline points="176,222 177.6,221.2 179.1,220.4 180.7,219.7 182.2,218.9 183.8,218.1 185.3,217.3 186.9,216.6 188.4,215.8 190,215" fill="none" stroke="#E46262" stroke-width="2.4" stroke-linejoin="round" stroke-linecap="round" stroke-opacity="0.78"/>
</g>
<line x1="46.3" y1="238.6" x2="271.7" y2="238.6" stroke="#808080" stroke-width="1.5" />
<line x1="342.9" y1="239.8" x2="569.3" y2="239.8" stroke="#808080" stroke-width="1.5" />
<polyline points="58.5,238.4 61.1,238 63.6,237.6 66.2,237.2 68.7,236.9 71.3,236.5 73.8,236.2 76.4,235.9 79,235.6 81.5,235.3 84.1,235.1 86.6,234.8 89.2,234.6 91.8,234.4 94.3,234.2 96.9,234 99.4,233.8 102,233.7 104.5,233.5 107.1,233.4 109.7,233.3 112.2,233.1 114.8,233 117.3,232.9 119.9,232.8 122.5,232.7 125,232.6 127.6,232.5 130.1,232.3 132.7,232.2 135.2,232.1 137.8,231.9 140.4,231.7 142.9,231.5 145.5,231.3 148,231.1 150.6,230.8 153.2,230.6 155.7,230.2 158.3,229.9 160.8,229.5 163.4,229 165.9,228.5 168.5,228 171.1,227.4 173.6,226.8 176.2,226 178.7,225.3 181.3,224.4 183.9,223.5 186.4,222.5 189,221.4 191.5,220.2 194.1,218.9 196.6,217.5 199.2,216 201.8,214.4 204.3,212.7 206.9,210.9 209.4,209 212,206.9 214.6,204.7 217.1,202.3 219.7,199.8 222.2,197.1 224.8,194.3 227.3,191.3 229.9,188.1 232.5,184.8 235,181.3 237.6,177.5 240.1,173.6 242.7,169.5 245.3,165.1 247.8,160.6 250.4,155.8 252.9,150.8 255.5,145.5 258,140 260.6,134.2" fill="none" stroke="#DD0000" stroke-width="2.6" stroke-linejoin="round" stroke-linecap="round" />
<polyline points="58.5,237.5 61.1,236.9 63.6,236.3 66.2,235.7 68.7,235 71.3,234.5 73.9,233.9 76.4,233.3 79,232.7 81.5,232.1 84.1,231.5 86.7,231 89.2,230.4 91.8,229.8 94.4,229.3 96.9,228.7 99.5,228.1 102,227.5 104.6,226.9 107.2,226.3 109.7,225.7 112.3,225.1 114.8,224.5 117.4,223.9 120,223.2 122.5,222.5 125.1,221.8 127.6,221.1 130.2,220.4 132.8,219.6 135.3,218.8 137.9,218 140.4,217.1 143,216.2 145.6,215.3 148.1,214.3 150.7,213.3 153.2,212.2 155.8,211.1 158.4,209.9 160.9,208.7 163.5,207.5 166.1,206.1 168.6,204.7 171.2,203.3 173.7,201.7 176.3,200.1 178.9,198.4 181.4,196.7 184,194.8 186.5,192.9 189.1,190.9 191.7,188.7 194.2,186.5 196.8,184.2 199.3,181.8 201.9,179.2 204.5,176.6 207,173.8 209.6,170.9 212.1,167.9 214.7,164.8 217.3,161.5 219.8,158.1 222.4,154.5 224.9,150.8 227.5,146.9 230.1,142.9 232.6,138.7 235.2,134.3 237.8,129.8 240.3,125.1 242.9,120.2 245.4,115.1 248,109.9 250.6,104.4 253.1,98.7 255.7,92.8 258.2,86.7 260.8,80.4" fill="none" stroke="#E9A11C" stroke-width="2.6" stroke-linejoin="round" stroke-linecap="round" />
<polyline points="352.9,67 355.5,71.6 358,76.2 360.6,80.8 363.1,85.3 365.7,89.8 368.2,94.2 370.8,98.6 373.4,102.9 375.9,107.2 378.5,111.4 381,115.6 383.6,119.7 386.2,123.7 388.7,127.7 391.3,131.7 393.8,135.5 396.4,139.4 398.9,143.1 401.5,146.8 404.1,150.4 406.6,154 409.2,157.5 411.7,160.9 414.3,164.3 416.9,167.6 419.4,170.8 422,174 424.5,177.1 427.1,180.1 429.6,183 432.2,185.9 434.8,188.7 437.3,191.4 439.9,194 442.4,196.6 445,199.1 447.6,201.5 450.1,203.9 452.7,206.1 455.2,208.3 457.8,210.5 460.3,212.5 462.9,214.5 465.5,216.4 468,218.2 470.6,219.9 473.1,221.6 475.7,223.2 478.3,224.7 480.8,226.2 483.4,227.6 485.9,228.9 488.5,230.1 491,231.3 493.6,232.3 496.2,233.4 498.7,234.3 501.3,235.2 503.8,236 506.4,236.7 509,237.4 511.5,238 514.1,238.6 516.6,239.1 519.2,239.3 521.7,239.3 524.3,239.3 526.9,239.3 529.4,239.3 532,239.3 534.5,239.3 537.1,239.3 539.7,239.3 542.2,239.3 544.8,239.3 547.3,239.3 549.9,239.3 552.4,239.3 555,239.3" fill="none" stroke="#0000FF" stroke-width="1.9" stroke-linejoin="round" stroke-linecap="round" />
<polyline points="352.9,40.8 355.4,46.4 358,51.8 360.5,57.2 363,62.4 365.6,67.5 368.1,72.5 370.6,77.4 373.2,82.2 375.7,86.9 378.2,91.6 380.8,96.1 383.3,100.5 385.8,104.9 388.4,109.1 390.9,113.3 393.4,117.4 396,121.5 398.5,125.4 401,129.3 403.6,133.1 406.1,136.8 408.6,140.4 411.2,144 413.7,147.5 416.2,151 418.8,154.4 421.3,157.7 423.8,160.9 426.4,164.1 428.9,167.2 431.4,170.3 434,173.3 436.5,176.2 439,179.1 441.6,181.9 444.1,184.7 446.6,187.4 449.2,190.1 451.7,192.6 454.2,195.2 456.7,197.6 459.3,200.1 461.8,202.4 464.3,204.7 466.9,206.9 469.4,209.1 471.9,211.2 474.5,213.3 477,215.3 479.5,217.2 482.1,219.1 484.6,220.9 487.1,222.6 489.7,224.3 492.2,225.9 494.7,227.4 497.3,228.8 499.8,230.2 502.3,231.5 504.9,232.8 507.4,233.9 509.9,235 512.5,236 515,236.9 517.5,237.8 520.1,238.5 522.6,239.2 525.1,239.3 527.7,239.3 530.2,239.3 532.7,239.3 535.3,239.3 537.8,239.3 540.3,239.3 542.9,239.3 545.4,239.3 547.9,239.3 550.5,239.3 553,239.3" fill="none" stroke="#235F08" stroke-width="1.9" stroke-linejoin="round" stroke-linecap="round" />
<rect x="179" y="32" width="77" height="23" fill="#fff"/>
<rect x="481" y="34.5" width="76" height="23" fill="#fff"/>
<line x1="182" y1="37.7" x2="202.5" y2="37.7" stroke="#E9A11C" stroke-width="1.6" />
<circle cx="192.2" cy="37.7" r="1.3" fill="#E9A11C"/>
<line x1="182" y1="50.7" x2="202.5" y2="50.7" stroke="#DD0000" stroke-width="1.6" />
<circle cx="192.2" cy="50.7" r="1.3" fill="#DD0000"/>
<text x="206" y="41" font-family='"Liberation Sans", sans-serif' font-size="9.0" fill="#444" text-anchor="start" font-weight="normal" >CDDs 18°C</text>
<text x="206" y="54" font-family='"Liberation Sans", sans-serif' font-size="9.0" fill="#444" text-anchor="start" font-weight="normal" >CDDs 22°C</text>
<line x1="482.2" y1="40.2" x2="502.8" y2="40.2" stroke="#235F08" stroke-width="1.6" />
<circle cx="492.5" cy="40.2" r="1.3" fill="#235F08"/>
<line x1="482.2" y1="53.6" x2="502.8" y2="53.6" stroke="#0000FF" stroke-width="1.6" />
<circle cx="492.5" cy="53.6" r="1.3" fill="#0000FF"/>
<text x="506.7" y="43.5" font-family='"Liberation Sans", sans-serif' font-size="9.15" fill="#444" text-anchor="start" font-weight="normal" >HDDs 18°C</text>
<text x="506.7" y="56.9" font-family='"Liberation Sans", sans-serif' font-size="9.15" fill="#444" text-anchor="start" font-weight="normal" >HDDs 16°C</text>
<line x1="50" y1="350.8" x2="50" y2="555.5" stroke="#707070" stroke-width="1.8" />
<line x1="50" y1="545" x2="277" y2="545" stroke="#808080" stroke-width="1.5" />
<line x1="342" y1="355.3" x2="342" y2="554.4" stroke="#999" stroke-width="1.5" />
<line x1="342" y1="355.3" x2="566.3" y2="355.3" stroke="#999" stroke-width="1.5" />
<circle cx="101.7" cy="435.5" r="2.65" fill="none" stroke="#DD0000" stroke-width="0.95"/>
<circle cx="104.3" cy="463.4" r="2.65" fill="none" stroke="#DD0000" stroke-width="0.95"/>
<circle cx="103.6" cy="469" r="2.65" fill="none" stroke="#DD0000" stroke-width="0.95"/>
<circle cx="102.9" cy="472.9" r="2.65" fill="none" stroke="#DD0000" stroke-width="0.95"/>
<circle cx="107.7" cy="474.2" r="2.65" fill="none" stroke="#DD0000" stroke-width="0.95"/>
<circle cx="90.6" cy="474" r="2.65" fill="none" stroke="#DD0000" stroke-width="0.95"/>
<circle cx="116.5" cy="477.6" r="2.65" fill="none" stroke="#DD0000" stroke-width="0.95"/>
<circle cx="107" cy="485.2" r="2.65" fill="none" stroke="#DD0000" stroke-width="0.95"/>
<circle cx="95.2" cy="489.6" r="2.65" fill="none" stroke="#DD0000" stroke-width="0.95"/>
<circle cx="100.4" cy="493.9" r="2.65" fill="none" stroke="#DD0000" stroke-width="0.95"/>
<circle cx="86.5" cy="493" r="2.65" fill="none" stroke="#DD0000" stroke-width="0.95"/>
<circle cx="105.7" cy="497.4" r="2.65" fill="none" stroke="#DD0000" stroke-width="0.95"/>
<circle cx="209.9" cy="497.3" r="2.65" fill="none" stroke="#DD0000" stroke-width="0.95"/>
<circle cx="154" cy="514.8" r="2.65" fill="none" stroke="#DD0000" stroke-width="0.95"/>
<circle cx="152.6" cy="524" r="2.65" fill="none" stroke="#DD0000" stroke-width="0.95"/>
<circle cx="117.1" cy="477.7" r="2.65" fill="none" stroke="#DD0000" stroke-width="0.95"/>
<circle cx="62.4" cy="532.4" r="2.65" fill="none" stroke="#DD0000" stroke-width="0.95"/>
<circle cx="64" cy="530.4" r="2.65" fill="none" stroke="#DD0000" stroke-width="0.95"/>
<circle cx="74.7" cy="521.8" r="2.65" fill="none" stroke="#DD0000" stroke-width="0.95"/>
<circle cx="79.6" cy="516.9" r="2.65" fill="none" stroke="#DD0000" stroke-width="0.95"/>
<circle cx="89.4" cy="514.4" r="2.65" fill="none" stroke="#DD0000" stroke-width="0.95"/>
<circle cx="99.3" cy="513.6" r="2.65" fill="none" stroke="#DD0000" stroke-width="0.95"/>
<circle cx="88.6" cy="525" r="2.65" fill="none" stroke="#DD0000" stroke-width="0.95"/>
<circle cx="96" cy="529.1" r="2.65" fill="none" stroke="#DD0000" stroke-width="0.95"/>
<circle cx="101.6" cy="512.8" r="2.65" fill="none" stroke="#DD0000" stroke-width="0.95"/>
<circle cx="114.7" cy="517.7" r="2.65" fill="none" stroke="#DD0000" stroke-width="0.95"/>
<circle cx="105.7" cy="498.8" r="2.65" fill="none" stroke="#DD0000" stroke-width="0.95"/>
<circle cx="61.5" cy="536" r="2.65" fill="none" stroke="#DD0000" stroke-width="0.95"/>
<circle cx="68.5" cy="524.5" r="2.65" fill="none" stroke="#DD0000" stroke-width="0.95"/>
<circle cx="84" cy="517.5" r="2.65" fill="none" stroke="#DD0000" stroke-width="0.95"/>
<polygon points="66,531 68,526.5 72,524 77,522 81,519.5 84.5,516.5 88,519 90.5,523 89,527 84,530 77,532.5 69,534.5" fill="#DD0000" stroke="#DD0000" stroke-width="3" stroke-linejoin="round"/>
<circle cx="120.6" cy="365" r="3.0" fill="#DD0000"/>
<circle cx="122.2" cy="419.3" r="3.0" fill="#DD0000"/>
<circle cx="104.7" cy="430.5" r="3.0" fill="#DD0000"/>
<circle cx="123.4" cy="427.9" r="3.0" fill="#DD0000"/>
<circle cx="122.2" cy="432.7" r="3.0" fill="#DD0000"/>
<circle cx="129.5" cy="434.2" r="3.0" fill="#DD0000"/>
<circle cx="141.4" cy="439.8" r="3.0" fill="#DD0000"/>
<circle cx="128.5" cy="454.4" r="3.0" fill="#DD0000"/>
<circle cx="111.8" cy="462.6" r="3.0" fill="#DD0000"/>
<circle cx="100.4" cy="463" r="3.0" fill="#DD0000"/>
<circle cx="118.9" cy="469.7" r="3.0" fill="#DD0000"/>
<circle cx="117.8" cy="471" r="3.0" fill="#DD0000"/>
<circle cx="124.9" cy="475.2" r="3.0" fill="#DD0000"/>
<circle cx="121.7" cy="497.4" r="3.0" fill="#DD0000"/>
<circle cx="262.7" cy="472.3" r="3.0" fill="#DD0000"/>
<circle cx="190.7" cy="500.3" r="3.0" fill="#DD0000"/>
<circle cx="185.3" cy="514.8" r="3.0" fill="#DD0000"/>
<circle cx="138.7" cy="506.1" r="3.0" fill="#DD0000"/>
<circle cx="143" cy="513" r="3.0" fill="#DD0000"/>
<circle cx="90.2" cy="507" r="3.0" fill="#DD0000"/>
<circle cx="97.6" cy="505" r="3.0" fill="#DD0000"/>
<circle cx="84.5" cy="513.2" r="3.0" fill="#DD0000"/>
<circle cx="91.9" cy="521.8" r="3.0" fill="#DD0000"/>
<circle cx="87" cy="527.5" r="3.0" fill="#DD0000"/>
<circle cx="98.3" cy="505" r="3.0" fill="#DD0000"/>
<circle cx="103.6" cy="502.1" r="3.0" fill="#DD0000"/>
<circle cx="122" cy="498.8" r="3.0" fill="#DD0000"/>
<circle cx="137.6" cy="506.6" r="3.0" fill="#DD0000"/>
<circle cx="105.7" cy="517.7" r="3.0" fill="#DD0000"/>
<circle cx="111.4" cy="525.9" r="3.0" fill="#DD0000"/>
<circle cx="119.6" cy="528.3" r="3.0" fill="#DD0000"/>
<circle cx="107.3" cy="521.8" r="3.0" fill="#DD0000"/>
<circle cx="70" cy="527.5" r="3.0" fill="#DD0000"/>
<circle cx="74" cy="525.5" r="3.0" fill="#DD0000"/>
<circle cx="78" cy="523.5" r="3.0" fill="#DD0000"/>
<circle cx="82" cy="521" r="3.0" fill="#DD0000"/>
<polygon points="59.5,544.5 60.5,540.5 67.3,537.5 75.5,534.5 83.7,532 89.4,530.3 94.3,528.7 100,526.8 104,528 108,531.5 114,535.5 117,538.5 117,540.5 100,542 80,543.5" fill="#E9A11C" stroke="#E9A11C" stroke-width="2.5" stroke-linejoin="round"/>
<circle cx="262.5" cy="516.3" r="3.0" fill="#E9A11C"/>
<circle cx="185.3" cy="529.1" r="3.0" fill="#E9A11C"/>
<circle cx="190.8" cy="526.1" r="3.0" fill="#E9A11C"/>
<circle cx="99.9" cy="519.3" r="3.0" fill="#E9A11C"/>
<circle cx="104.8" cy="512.8" r="3.0" fill="#E9A11C"/>
<circle cx="111.4" cy="520.1" r="3.0" fill="#E9A11C"/>
<circle cx="116.3" cy="521.8" r="3.0" fill="#E9A11C"/>
<circle cx="121.2" cy="524.2" r="3.0" fill="#E9A11C"/>
<circle cx="119.6" cy="534.1" r="3.0" fill="#E9A11C"/>
<circle cx="111.4" cy="534.1" r="3.0" fill="#E9A11C"/>
<circle cx="105.7" cy="530.8" r="3.0" fill="#E9A11C"/>
<circle cx="99.9" cy="532.4" r="3.0" fill="#E9A11C"/>
<circle cx="98.3" cy="525" r="3.0" fill="#E9A11C"/>
<circle cx="120.4" cy="508.2" r="3.0" fill="#E9A11C"/>
<circle cx="123.7" cy="513.2" r="3.0" fill="#E9A11C"/>
<circle cx="127" cy="516.9" r="3.0" fill="#E9A11C"/>
<circle cx="129.4" cy="520.1" r="3.0" fill="#E9A11C"/>
<circle cx="138" cy="525" r="3.0" fill="#E9A11C"/>
<circle cx="139.3" cy="516.9" r="3.0" fill="#E9A11C"/>
<circle cx="142.8" cy="531" r="3.0" fill="#E9A11C"/>
<circle cx="115" cy="530" r="3.0" fill="#E9A11C"/>
<circle cx="108" cy="527" r="3.0" fill="#E9A11C"/>
<circle cx="94" cy="529" r="3.0" fill="#E9A11C"/>
<circle cx="102" cy="535" r="3.0" fill="#E9A11C"/>
<circle cx="113" cy="538" r="3.0" fill="#E9A11C"/>
<circle cx="121" cy="537" r="3.0" fill="#E9A11C"/>
<circle cx="209.7" cy="525.3" r="2.65" fill="none" stroke="#E9A11C" stroke-width="0.95"/>
<circle cx="153.3" cy="532.6" r="2.65" fill="none" stroke="#E9A11C" stroke-width="0.95"/>
<circle cx="154.5" cy="531" r="2.65" fill="none" stroke="#E9A11C" stroke-width="0.95"/>
<line x1="60.4" y1="544.7" x2="262.5" y2="530.9" stroke="#000" stroke-width="1.7" />
<rect x="160" y="360" width="121" height="24" fill="#fff"/>
<line x1="162.2" y1="368.1" x2="179.4" y2="368.1" stroke="#E9A11C" stroke-width="1.5" />
<circle cx="170.8" cy="368.1" r="1.3" fill="#E9A11C"/>
<line x1="162.2" y1="378.7" x2="179.4" y2="378.7" stroke="#DD0000" stroke-width="1.5" />
<circle cx="170.8" cy="378.7" r="1.3" fill="#DD0000"/>
<text x="183.3" y="371.2" font-family='"Liberation Sans", sans-serif' font-size="7.6" fill="#444" text-anchor="start" font-weight="normal" >CDDs 18°C</text>
<text x="183.3" y="381.8" font-family='"Liberation Sans", sans-serif' font-size="7.6" fill="#444" text-anchor="start" font-weight="normal" >CDDs 22°C</text>
<circle cx="233.7" cy="368.5" r="2.4" fill="none" stroke="#000" stroke-width="1"/>
<circle cx="233.7" cy="379.9" r="2.9" fill="#000"/>
<text x="246.6" y="371.2" font-family='"Liberation Sans", sans-serif' font-size="7.3" fill="#444" text-anchor="start" font-weight="normal" >RCP 4p5</text>
<text x="246.6" y="381.8" font-family='"Liberation Sans", sans-serif' font-size="7.3" fill="#444" text-anchor="start" font-weight="normal" >RCP 8p5</text>
<circle cx="354.9" cy="383.6" r="2.65" fill="none" stroke="#3f7a25" stroke-width="0.95"/>
<circle cx="357.5" cy="384.6" r="2.65" fill="none" stroke="#3f7a25" stroke-width="0.95"/>
<circle cx="362.7" cy="393.5" r="2.65" fill="none" stroke="#3f7a25" stroke-width="0.95"/>
<circle cx="367.4" cy="390.3" r="2.65" fill="none" stroke="#3f7a25" stroke-width="0.95"/>
<circle cx="372.7" cy="385.1" r="2.65" fill="none" stroke="#3f7a25" stroke-width="0.95"/>
<circle cx="378.4" cy="402.3" r="2.65" fill="none" stroke="#3f7a25" stroke-width="0.95"/>
<circle cx="384.7" cy="378.3" r="2.65" fill="none" stroke="#3f7a25" stroke-width="0.95"/>
<circle cx="354.6" cy="427.2" r="2.65" fill="none" stroke="#3f7a25" stroke-width="0.95"/>
<circle cx="358.3" cy="424.6" r="2.65" fill="none" stroke="#3f7a25" stroke-width="0.95"/>
<circle cx="357.2" cy="441.3" r="2.65" fill="none" stroke="#3f7a25" stroke-width="0.95"/>
<circle cx="355.7" cy="458" r="2.65" fill="none" stroke="#3f7a25" stroke-width="0.95"/>
<circle cx="355.7" cy="489.7" r="2.65" fill="none" stroke="#3f7a25" stroke-width="0.95"/>
<circle cx="365" cy="389.9" r="2.65" fill="none" stroke="#3f7a25" stroke-width="0.95"/>
<circle cx="356" cy="440.6" r="2.65" fill="none" stroke="#3f7a25" stroke-width="0.95"/>
<circle cx="356.3" cy="446.1" r="2.65" fill="none" stroke="#3f7a25" stroke-width="0.95"/>
<circle cx="355.2" cy="457.9" r="2.65" fill="none" stroke="#3f7a25" stroke-width="0.95"/>
<circle cx="358" cy="431" r="2.65" fill="none" stroke="#3f7a25" stroke-width="0.95"/>
<circle cx="357" cy="470" r="2.65" fill="none" stroke="#3f7a25" stroke-width="0.95"/>
<circle cx="356" cy="478" r="2.65" fill="none" stroke="#3f7a25" stroke-width="0.95"/>
<circle cx="358" cy="495" r="2.65" fill="none" stroke="#3f7a25" stroke-width="0.95"/>
<circle cx="356" cy="505" r="2.65" fill="none" stroke="#3f7a25" stroke-width="0.95"/>
<circle cx="357" cy="520" r="2.65" fill="none" stroke="#3f7a25" stroke-width="0.95"/>
<circle cx="360" cy="530" r="2.65" fill="none" stroke="#3f7a25" stroke-width="0.95"/>
<circle cx="355" cy="437" r="2.65" fill="none" stroke="#3f7a25" stroke-width="0.95"/>
<circle cx="375" cy="381" r="2.65" fill="none" stroke="#3f7a25" stroke-width="0.95"/>
<circle cx="380" cy="379" r="2.65" fill="none" stroke="#3f7a25" stroke-width="0.95"/>
<circle cx="356" cy="490" r="2.65" fill="none" stroke="#3f7a25" stroke-width="0.95"/>
<circle cx="361" cy="402" r="2.65" fill="none" stroke="#3f7a25" stroke-width="0.95"/>
<circle cx="366" cy="396" r="2.65" fill="none" stroke="#3f7a25" stroke-width="0.95"/>
<circle cx="370" cy="389" r="2.65" fill="none" stroke="#3f7a25" stroke-width="0.95"/>
<circle cx="405.4" cy="377.4" r="2.65" fill="none" stroke="#0000FF" stroke-width="0.95"/>
<circle cx="411" cy="377.4" r="2.65" fill="none" stroke="#0000FF" stroke-width="0.95"/>
<circle cx="408.2" cy="382.3" r="2.65" fill="none" stroke="#0000FF" stroke-width="0.95"/>
<circle cx="444.2" cy="377.8" r="2.65" fill="none" stroke="#0000FF" stroke-width="0.95"/>
<circle cx="445.3" cy="378.9" r="2.65" fill="none" stroke="#0000FF" stroke-width="0.95"/>
<circle cx="500" cy="380.4" r="2.65" fill="none" stroke="#0000FF" stroke-width="0.95"/>
<circle cx="367.8" cy="394.8" r="2.65" fill="none" stroke="#0000FF" stroke-width="0.95"/>
<circle cx="372.7" cy="394.1" r="2.65" fill="none" stroke="#0000FF" stroke-width="0.95"/>
<circle cx="380.3" cy="383" r="2.65" fill="none" stroke="#0000FF" stroke-width="0.95"/>
<circle cx="387.3" cy="379.5" r="2.65" fill="none" stroke="#0000FF" stroke-width="0.95"/>
<circle cx="392.9" cy="379.5" r="2.65" fill="none" stroke="#0000FF" stroke-width="0.95"/>
<circle cx="397.7" cy="380.9" r="2.65" fill="none" stroke="#0000FF" stroke-width="0.95"/>
<circle cx="360.9" cy="401.7" r="2.65" fill="none" stroke="#0000FF" stroke-width="0.95"/>
<circle cx="360.3" cy="415.7" r="2.65" fill="none" stroke="#0000FF" stroke-width="0.95"/>
<circle cx="367.7" cy="414.2" r="2.65" fill="none" stroke="#0000FF" stroke-width="0.95"/>
<circle cx="362.4" cy="433" r="2.65" fill="none" stroke="#0000FF" stroke-width="0.95"/>
<circle cx="367.1" cy="434" r="2.65" fill="none" stroke="#0000FF" stroke-width="0.95"/>
<circle cx="358.8" cy="441.3" r="2.65" fill="none" stroke="#0000FF" stroke-width="0.95"/>
<circle cx="364" cy="448.6" r="2.65" fill="none" stroke="#0000FF" stroke-width="0.95"/>
<circle cx="358.3" cy="451.7" r="2.65" fill="none" stroke="#0000FF" stroke-width="0.95"/>
<circle cx="360.9" cy="460.1" r="2.65" fill="none" stroke="#0000FF" stroke-width="0.95"/>
<circle cx="354.6" cy="466.9" r="2.65" fill="none" stroke="#0000FF" stroke-width="0.95"/>
<circle cx="360.3" cy="469.4" r="2.65" fill="none" stroke="#0000FF" stroke-width="0.95"/>
<circle cx="356.2" cy="483.5" r="2.65" fill="none" stroke="#0000FF" stroke-width="0.95"/>
<circle cx="361.4" cy="488.7" r="2.65" fill="none" stroke="#0000FF" stroke-width="0.95"/>
<circle cx="357.2" cy="499.7" r="2.65" fill="none" stroke="#0000FF" stroke-width="0.95"/>
<circle cx="354.6" cy="516.4" r="2.65" fill="none" stroke="#0000FF" stroke-width="0.95"/>
<circle cx="361.9" cy="516.4" r="2.65" fill="none" stroke="#0000FF" stroke-width="0.95"/>
<circle cx="356.7" cy="530.8" r="2.65" fill="none" stroke="#0000FF" stroke-width="0.95"/>
<circle cx="362.9" cy="517.6" r="2.65" fill="none" stroke="#0000FF" stroke-width="0.95"/>
<circle cx="362.1" cy="511.7" r="2.65" fill="none" stroke="#0000FF" stroke-width="0.95"/>
<circle cx="363.3" cy="401.3" r="2.65" fill="none" stroke="#0000FF" stroke-width="0.95"/>
<circle cx="363.3" cy="407" r="2.65" fill="none" stroke="#0000FF" stroke-width="0.95"/>
<circle cx="360.1" cy="415.4" r="2.65" fill="none" stroke="#0000FF" stroke-width="0.95"/>
<circle cx="368" cy="414.3" r="2.65" fill="none" stroke="#0000FF" stroke-width="0.95"/>
<circle cx="369" cy="397.1" r="2.65" fill="none" stroke="#0000FF" stroke-width="0.95"/>
<circle cx="373.2" cy="390.9" r="2.65" fill="none" stroke="#0000FF" stroke-width="0.95"/>
<circle cx="376.3" cy="388.3" r="2.65" fill="none" stroke="#0000FF" stroke-width="0.95"/>
<circle cx="379.4" cy="385.1" r="2.65" fill="none" stroke="#0000FF" stroke-width="0.95"/>
<circle cx="382" cy="382.5" r="2.65" fill="none" stroke="#0000FF" stroke-width="0.95"/>
<circle cx="386.7" cy="380.4" r="2.65" fill="none" stroke="#0000FF" stroke-width="0.95"/>
<circle cx="392" cy="379.9" r="2.65" fill="none" stroke="#0000FF" stroke-width="0.95"/>
<circle cx="396.1" cy="380.4" r="2.65" fill="none" stroke="#0000FF" stroke-width="0.95"/>
<circle cx="399.3" cy="382.5" r="2.65" fill="none" stroke="#0000FF" stroke-width="0.95"/>
<circle cx="403.4" cy="378.3" r="2.65" fill="none" stroke="#0000FF" stroke-width="0.95"/>
<circle cx="361.4" cy="432" r="2.65" fill="none" stroke="#0000FF" stroke-width="0.95"/>
<circle cx="364.6" cy="433.6" r="2.65" fill="none" stroke="#0000FF" stroke-width="0.95"/>
<circle cx="368.5" cy="434" r="2.65" fill="none" stroke="#0000FF" stroke-width="0.95"/>
<circle cx="360.6" cy="441.4" r="2.65" fill="none" stroke="#0000FF" stroke-width="0.95"/>
<circle cx="364.6" cy="448.5" r="2.65" fill="none" stroke="#0000FF" stroke-width="0.95"/>
<circle cx="357.9" cy="451.6" r="2.65" fill="none" stroke="#0000FF" stroke-width="0.95"/>
<circle cx="360.6" cy="458.6" r="2.65" fill="none" stroke="#0000FF" stroke-width="0.95"/>
<circle cx="354.8" cy="467.3" r="2.65" fill="none" stroke="#0000FF" stroke-width="0.95"/>
<circle cx="358.7" cy="443.4" r="2.65" fill="none" stroke="#0000FF" stroke-width="0.95"/>
<circle cx="358" cy="475" r="2.65" fill="none" stroke="#0000FF" stroke-width="0.95"/>
<circle cx="356.3" cy="483.4" r="2.65" fill="none" stroke="#0000FF" stroke-width="0.95"/>
<circle cx="356.7" cy="499.4" r="2.65" fill="none" stroke="#0000FF" stroke-width="0.95"/>
<circle cx="360.6" cy="487.7" r="2.65" fill="none" stroke="#0000FF" stroke-width="0.95"/>
<circle cx="360.6" cy="468.5" r="2.65" fill="none" stroke="#0000FF" stroke-width="0.95"/>
<circle cx="361.8" cy="509.3" r="2.65" fill="none" stroke="#0000FF" stroke-width="0.95"/>
<circle cx="363.8" cy="518.3" r="2.65" fill="none" stroke="#0000FF" stroke-width="0.95"/>
<circle cx="361.4" cy="516" r="2.65" fill="none" stroke="#0000FF" stroke-width="0.95"/>
<circle cx="356.3" cy="530.8" r="2.65" fill="none" stroke="#0000FF" stroke-width="0.95"/>
<circle cx="354.8" cy="516.3" r="2.65" fill="none" stroke="#0000FF" stroke-width="0.95"/>
<circle cx="365" cy="398" r="2.65" fill="none" stroke="#0000FF" stroke-width="0.95"/>
<circle cx="366" cy="404" r="2.65" fill="none" stroke="#0000FF" stroke-width="0.95"/>
<circle cx="370" cy="392" r="2.65" fill="none" stroke="#0000FF" stroke-width="0.95"/>
<circle cx="375" cy="386" r="2.65" fill="none" stroke="#0000FF" stroke-width="0.95"/>
<circle cx="378" cy="384" r="2.65" fill="none" stroke="#0000FF" stroke-width="0.95"/>
<circle cx="383" cy="381" r="2.65" fill="none" stroke="#0000FF" stroke-width="0.95"/>
<circle cx="389" cy="379" r="2.65" fill="none" stroke="#0000FF" stroke-width="0.95"/>
<circle cx="394" cy="379" r="2.65" fill="none" stroke="#0000FF" stroke-width="0.95"/>
<circle cx="363" cy="410" r="2.65" fill="none" stroke="#0000FF" stroke-width="0.95"/>
<circle cx="358" cy="420" r="2.65" fill="none" stroke="#0000FF" stroke-width="0.95"/>
<circle cx="361" cy="395" r="2.65" fill="none" stroke="#0000FF" stroke-width="0.95"/>
<circle cx="392.2" cy="417.1" r="3.0" fill="#235F08"/>
<circle cx="361.9" cy="420.4" r="3.0" fill="#235F08"/>
<circle cx="374.4" cy="435" r="3.0" fill="#235F08"/>
<circle cx="359.3" cy="437.1" r="3.0" fill="#235F08"/>
<circle cx="366.6" cy="445" r="3.0" fill="#235F08"/>
<circle cx="360.3" cy="462.2" r="3.0" fill="#235F08"/>
<circle cx="373.4" cy="466.9" r="3.0" fill="#235F08"/>
<circle cx="376" cy="418.3" r="3.0" fill="#235F08"/>
<circle cx="373.4" cy="469.4" r="3.0" fill="#235F08"/>
<circle cx="377" cy="483.5" r="3.0" fill="#235F08"/>
<circle cx="377" cy="489.2" r="3.0" fill="#235F08"/>
<circle cx="361.4" cy="480.9" r="3.0" fill="#235F08"/>
<circle cx="369.2" cy="508.5" r="3.0" fill="#235F08"/>
<circle cx="368.2" cy="516.9" r="3.0" fill="#235F08"/>
<circle cx="361.9" cy="509.6" r="3.0" fill="#235F08"/>
<circle cx="368.7" cy="509.1" r="3.0" fill="#235F08"/>
<circle cx="368.7" cy="519.1" r="3.0" fill="#235F08"/>
<circle cx="373.9" cy="530.8" r="3.0" fill="#235F08"/>
<circle cx="384.7" cy="395.6" r="3.0" fill="#235F08"/>
<circle cx="381.5" cy="399.2" r="3.0" fill="#235F08"/>
<circle cx="391.4" cy="417" r="3.0" fill="#235F08"/>
<circle cx="373.2" cy="411.7" r="3.0" fill="#235F08"/>
<circle cx="376.3" cy="414.9" r="3.0" fill="#235F08"/>
<circle cx="394" cy="377.8" r="3.0" fill="#235F08"/>
<circle cx="390.9" cy="387.2" r="3.0" fill="#235F08"/>
<circle cx="381.7" cy="396.9" r="3.0" fill="#235F08"/>
<circle cx="372" cy="410.1" r="3.0" fill="#235F08"/>
<circle cx="359.5" cy="436.7" r="3.0" fill="#235F08"/>
<circle cx="366.5" cy="444.6" r="3.0" fill="#235F08"/>
<circle cx="374" cy="435.2" r="3.0" fill="#235F08"/>
<circle cx="370.8" cy="427.3" r="3.0" fill="#235F08"/>
<circle cx="359.9" cy="461.8" r="3.0" fill="#235F08"/>
<circle cx="372.4" cy="466.5" r="3.0" fill="#235F08"/>
<circle cx="364" cy="458" r="3.0" fill="#235F08"/>
<circle cx="362" cy="450" r="3.0" fill="#235F08"/>
<circle cx="365" cy="472" r="3.0" fill="#235F08"/>
<circle cx="363" cy="485" r="3.0" fill="#235F08"/>
<circle cx="372" cy="492" r="3.0" fill="#235F08"/>
<circle cx="364" cy="512" r="3.0" fill="#235F08"/>
<circle cx="371" cy="522" r="3.0" fill="#235F08"/>
<circle cx="366" cy="532" r="3.0" fill="#235F08"/>
<circle cx="370" cy="415" r="3.0" fill="#235F08"/>
<circle cx="378" cy="420" r="3.0" fill="#235F08"/>
<circle cx="364" cy="425" r="3.0" fill="#235F08"/>
<circle cx="377.9" cy="483.4" r="3.0" fill="#235F08"/>
<circle cx="377.1" cy="489.3" r="3.0" fill="#235F08"/>
<circle cx="361.8" cy="480.3" r="3.0" fill="#235F08"/>
<circle cx="367.7" cy="478.3" r="3.0" fill="#235F08"/>
<circle cx="369.3" cy="508" r="3.0" fill="#235F08"/>
<circle cx="368.9" cy="508.9" r="3.0" fill="#235F08"/>
<circle cx="361.8" cy="509.7" r="3.0" fill="#235F08"/>
<circle cx="368.5" cy="516.7" r="3.0" fill="#235F08"/>
<circle cx="370.8" cy="520.6" r="3.0" fill="#235F08"/>
<circle cx="374" cy="530" r="3.0" fill="#235F08"/>
<circle cx="429" cy="384" r="3.0" fill="#235F08"/>
<circle cx="433" cy="383.5" r="3.0" fill="#235F08"/>
<circle cx="414" cy="386" r="3.0" fill="#235F08"/>
<circle cx="420" cy="387" r="3.0" fill="#235F08"/>
<circle cx="475" cy="383.5" r="3.0" fill="#235F08"/>
<circle cx="406" cy="387" r="3.0" fill="#235F08"/>
<circle cx="386" cy="393" r="3.0" fill="#235F08"/>
<circle cx="398" cy="386" r="3.0" fill="#235F08"/>
<circle cx="410.4" cy="389.2" r="3.0" fill="#0000FF"/>
<circle cx="414.6" cy="387.8" r="3.0" fill="#0000FF"/>
<circle cx="420.2" cy="389.9" r="3.0" fill="#0000FF"/>
<circle cx="429.2" cy="385" r="3.0" fill="#0000FF"/>
<circle cx="433.4" cy="385.7" r="3.0" fill="#0000FF"/>
<circle cx="432" cy="389.2" r="3.0" fill="#0000FF"/>
<circle cx="411.1" cy="400.3" r="3.0" fill="#0000FF"/>
<circle cx="412.5" cy="394.8" r="3.0" fill="#0000FF"/>
<circle cx="402.8" cy="393.4" r="3.0" fill="#0000FF"/>
<circle cx="475.1" cy="384.3" r="3.0" fill="#0000FF"/>
<circle cx="479.3" cy="387.1" r="3.0" fill="#0000FF"/>
<circle cx="475.7" cy="384.3" r="3.0" fill="#0000FF"/>
<circle cx="481.5" cy="387" r="3.0" fill="#0000FF"/>
<circle cx="551.1" cy="387.4" r="3.0" fill="#0000FF"/>
<circle cx="390.9" cy="390.9" r="3.0" fill="#0000FF"/>
<circle cx="395.1" cy="394" r="3.0" fill="#0000FF"/>
<circle cx="399.3" cy="394" r="3.0" fill="#0000FF"/>
<circle cx="389.9" cy="398.2" r="3.0" fill="#0000FF"/>
<circle cx="386.7" cy="398.2" r="3.0" fill="#0000FF"/>
<circle cx="383.6" cy="404.4" r="3.0" fill="#0000FF"/>
<circle cx="382" cy="408.6" r="3.0" fill="#0000FF"/>
<circle cx="383.6" cy="412.8" r="3.0" fill="#0000FF"/>
<circle cx="380.5" cy="413.8" r="3.0" fill="#0000FF"/>
<circle cx="403.4" cy="394" r="3.0" fill="#0000FF"/>
<circle cx="418" cy="387.1" r="3.0" fill="#0000FF"/>
<circle cx="412.3" cy="389.2" r="3.0" fill="#0000FF"/>
<circle cx="399.8" cy="387.8" r="3.0" fill="#0000FF"/>
<circle cx="382.8" cy="412.1" r="3.0" fill="#0000FF"/>
<circle cx="380.2" cy="414.2" r="3.0" fill="#0000FF"/>
<circle cx="383.8" cy="416.8" r="3.0" fill="#0000FF"/>
<circle cx="371.8" cy="422" r="3.0" fill="#0000FF"/>
<circle cx="378.6" cy="424.6" r="3.0" fill="#0000FF"/>
<circle cx="383.8" cy="425.1" r="3.0" fill="#0000FF"/>
<circle cx="392.2" cy="425.7" r="3.0" fill="#0000FF"/>
<circle cx="367.1" cy="428.3" r="3.0" fill="#0000FF"/>
<circle cx="376.5" cy="430.3" r="3.0" fill="#0000FF"/>
<circle cx="374.4" cy="439.7" r="3.0" fill="#0000FF"/>
<circle cx="379.1" cy="439.2" r="3.0" fill="#0000FF"/>
<circle cx="376.5" cy="452.3" r="3.0" fill="#0000FF"/>
<circle cx="366.6" cy="454.9" r="3.0" fill="#0000FF"/>
<circle cx="370.3" cy="455.9" r="3.0" fill="#0000FF"/>
<circle cx="375.5" cy="460.1" r="3.0" fill="#0000FF"/>
<circle cx="373.9" cy="463.2" r="3.0" fill="#0000FF"/>
<circle cx="366.1" cy="466.9" r="3.0" fill="#0000FF"/>
<circle cx="375.5" cy="461" r="3.0" fill="#0000FF"/>
<circle cx="373.4" cy="464.2" r="3.0" fill="#0000FF"/>
<circle cx="366.1" cy="467.3" r="3.0" fill="#0000FF"/>
<circle cx="365" cy="474.6" r="3.0" fill="#0000FF"/>
<circle cx="371.8" cy="476.2" r="3.0" fill="#0000FF"/>
<circle cx="372.3" cy="479.3" r="3.0" fill="#0000FF"/>
<circle cx="369.2" cy="483.5" r="3.0" fill="#0000FF"/>
<circle cx="373.4" cy="485" r="3.0" fill="#0000FF"/>
<circle cx="368.2" cy="488.2" r="3.0" fill="#0000FF"/>
<circle cx="359.8" cy="491.3" r="3.0" fill="#0000FF"/>
<circle cx="366.6" cy="493.4" r="3.0" fill="#0000FF"/>
<circle cx="367.1" cy="500.7" r="3.0" fill="#0000FF"/>
<circle cx="361.9" cy="502.8" r="3.0" fill="#0000FF"/>
<circle cx="366.6" cy="504.3" r="3.0" fill="#0000FF"/>
<circle cx="374.4" cy="501.7" r="3.0" fill="#0000FF"/>
<circle cx="377.6" cy="502.8" r="3.0" fill="#0000FF"/>
<circle cx="377" cy="507" r="3.0" fill="#0000FF"/>
<circle cx="374.4" cy="515.3" r="3.0" fill="#0000FF"/>
<circle cx="361.4" cy="503.2" r="3.0" fill="#0000FF"/>
<circle cx="376.8" cy="505.9" r="3.0" fill="#0000FF"/>
<circle cx="374.6" cy="515.4" r="3.0" fill="#0000FF"/>
<circle cx="362.1" cy="526.4" r="3.0" fill="#0000FF"/>
<circle cx="369.5" cy="526.4" r="3.0" fill="#0000FF"/>
<circle cx="370.2" cy="530.8" r="3.0" fill="#0000FF"/>
<circle cx="359.2" cy="536.7" r="3.0" fill="#0000FF"/>
<circle cx="361.4" cy="538.5" r="3.0" fill="#0000FF"/>
<circle cx="368.7" cy="539.6" r="3.0" fill="#0000FF"/>
<circle cx="373.1" cy="541.9" r="3.0" fill="#0000FF"/>
<circle cx="366.9" cy="428.5" r="3.0" fill="#0000FF"/>
<circle cx="376.7" cy="430.5" r="3.0" fill="#0000FF"/>
<circle cx="376.3" cy="439.1" r="3.0" fill="#0000FF"/>
<circle cx="379.4" cy="439.1" r="3.0" fill="#0000FF"/>
<circle cx="376.3" cy="452" r="3.0" fill="#0000FF"/>
<circle cx="366.9" cy="454.7" r="3.0" fill="#0000FF"/>
<circle cx="370" cy="455.9" r="3.0" fill="#0000FF"/>
<circle cx="375.5" cy="460.2" r="3.0" fill="#0000FF"/>
<circle cx="374" cy="463.3" r="3.0" fill="#0000FF"/>
<circle cx="383.3" cy="425.8" r="3.0" fill="#0000FF"/>
<circle cx="366.1" cy="467.3" r="3.0" fill="#0000FF"/>
<circle cx="373.6" cy="465.4" r="3.0" fill="#0000FF"/>
<circle cx="364.6" cy="474.8" r="3.0" fill="#0000FF"/>
<circle cx="372" cy="476.3" r="3.0" fill="#0000FF"/>
<circle cx="368.5" cy="483" r="3.0" fill="#0000FF"/>
<circle cx="372.4" cy="484.6" r="3.0" fill="#0000FF"/>
<circle cx="368.1" cy="489.3" r="3.0" fill="#0000FF"/>
<circle cx="360.3" cy="491.6" r="3.0" fill="#0000FF"/>
<circle cx="366.5" cy="493.6" r="3.0" fill="#0000FF"/>
<circle cx="367.3" cy="500.2" r="3.0" fill="#0000FF"/>
<circle cx="361.8" cy="503" r="3.0" fill="#0000FF"/>
<circle cx="366.9" cy="504.1" r="3.0" fill="#0000FF"/>
<circle cx="374.7" cy="501.8" r="3.0" fill="#0000FF"/>
<circle cx="377.1" cy="506.5" r="3.0" fill="#0000FF"/>
<circle cx="362.2" cy="508" r="3.0" fill="#0000FF"/>
<circle cx="377.1" cy="507" r="3.0" fill="#0000FF"/>
<circle cx="374.3" cy="515.6" r="3.0" fill="#0000FF"/>
<circle cx="361.8" cy="526.9" r="3.0" fill="#0000FF"/>
<circle cx="369.3" cy="524.6" r="3.0" fill="#0000FF"/>
<circle cx="370" cy="530" r="3.0" fill="#0000FF"/>
<circle cx="359.1" cy="536.3" r="3.0" fill="#0000FF"/>
<circle cx="362.2" cy="537.9" r="3.0" fill="#0000FF"/>
<circle cx="368.5" cy="539.4" r="3.0" fill="#0000FF"/>
<circle cx="373.2" cy="541.8" r="3.0" fill="#0000FF"/>
<circle cx="366.9" cy="505.4" r="3.0" fill="#0000FF"/>
<circle cx="388" cy="392" r="3.0" fill="#0000FF"/>
<circle cx="392" cy="389" r="3.0" fill="#0000FF"/>
<circle cx="396" cy="391" r="3.0" fill="#0000FF"/>
<circle cx="401" cy="392" r="3.0" fill="#0000FF"/>
<circle cx="386" cy="401" r="3.0" fill="#0000FF"/>
<circle cx="389" cy="404" r="3.0" fill="#0000FF"/>
<circle cx="385" cy="409" r="3.0" fill="#0000FF"/>
<circle cx="381" cy="416" r="3.0" fill="#0000FF"/>
<circle cx="378" cy="410" r="3.0" fill="#0000FF"/>
<circle cx="395" cy="398" r="3.0" fill="#0000FF"/>
<circle cx="398" cy="400" r="3.0" fill="#0000FF"/>
<circle cx="404" cy="390" r="3.0" fill="#0000FF"/>
<circle cx="407" cy="392" r="3.0" fill="#0000FF"/>
<circle cx="405" cy="393" r="3.0" fill="#0000FF"/>
<circle cx="408" cy="397" r="3.0" fill="#0000FF"/>
<circle cx="403" cy="400" r="3.0" fill="#0000FF"/>
<circle cx="415" cy="392" r="3.0" fill="#0000FF"/>
<circle cx="418" cy="391" r="3.0" fill="#0000FF"/>
<line x1="355.2" y1="363.5" x2="551.2" y2="485.4" stroke="#000" stroke-width="1.6" />
<rect x="454" y="357" width="114" height="19.5" fill="#fff"/>
<line x1="456.1" y1="361" x2="472.8" y2="361" stroke="#235F08" stroke-width="1.7" />
<circle cx="464.5" cy="361" r="1.3" fill="#235F08"/>
<line x1="456.1" y1="371.8" x2="472.8" y2="371.8" stroke="#0000FF" stroke-width="1.7" />
<circle cx="464.5" cy="371.8" r="1.3" fill="#0000FF"/>
<text x="476.1" y="363.5" font-family='"Liberation Sans", sans-serif' font-size="7.6" fill="#444" text-anchor="start" font-weight="normal" >HDDs 18°C</text>
<text x="476.1" y="374.8" font-family='"Liberation Sans", sans-serif' font-size="7.6" fill="#444" text-anchor="start" font-weight="normal" >HDDs 16°C</text>
<circle cx="525" cy="362" r="2.4" fill="none" stroke="#000" stroke-width="1"/>
<circle cx="525" cy="372.8" r="2.9" fill="#000"/>
<text x="537.4" y="364.6" font-family='"Liberation Sans", sans-serif' font-size="7.3" fill="#444" text-anchor="start" font-weight="normal" >RCP 4p5</text>
<text x="537.4" y="375.6" font-family='"Liberation Sans", sans-serif' font-size="7.3" fill="#444" text-anchor="start" font-weight="normal" >RCP 8p5</text>
</svg>
</body></html>
